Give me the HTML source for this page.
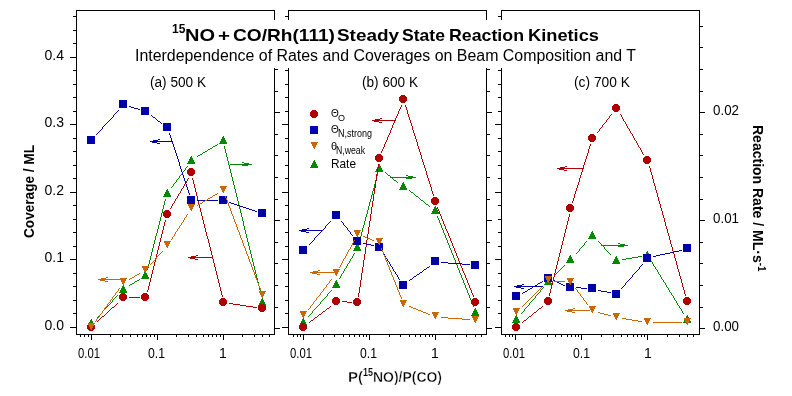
<!DOCTYPE html>
<html><head><meta charset="utf-8"><title>15NO + CO/Rh(111) Steady State Reaction Kinetics</title>
<style>html,body{margin:0;padding:0;background:#fff;width:792px;height:396px;overflow:hidden}svg{display:block}</style>
</head><body>
<svg width="792" height="396" viewBox="0 0 792 396">
<rect width="792" height="396" fill="#fff"/>
<g shape-rendering="crispEdges"><rect x="76" y="10" width="199" height="1" fill="#000"/><rect x="76" y="334" width="199" height="1" fill="#000"/><rect x="76" y="10" width="1" height="325" fill="#000"/><rect x="274" y="10" width="1" height="325" fill="#000"/><rect x="70" y="327" width="6" height="1" fill="#000"/><rect x="73" y="313" width="3" height="1" fill="#000"/><rect x="73" y="300" width="3" height="1" fill="#000"/><rect x="73" y="286" width="3" height="1" fill="#000"/><rect x="73" y="273" width="3" height="1" fill="#000"/><rect x="70" y="259" width="6" height="1" fill="#000"/><rect x="73" y="246" width="3" height="1" fill="#000"/><rect x="73" y="232" width="3" height="1" fill="#000"/><rect x="73" y="219" width="3" height="1" fill="#000"/><rect x="73" y="205" width="3" height="1" fill="#000"/><rect x="70" y="192" width="6" height="1" fill="#000"/><rect x="73" y="178" width="3" height="1" fill="#000"/><rect x="73" y="165" width="3" height="1" fill="#000"/><rect x="73" y="151" width="3" height="1" fill="#000"/><rect x="73" y="138" width="3" height="1" fill="#000"/><rect x="70" y="124" width="6" height="1" fill="#000"/><rect x="73" y="111" width="3" height="1" fill="#000"/><rect x="73" y="97" width="3" height="1" fill="#000"/><rect x="73" y="84" width="3" height="1" fill="#000"/><rect x="73" y="70" width="3" height="1" fill="#000"/><rect x="70" y="57" width="6" height="1" fill="#000"/><rect x="73" y="43" width="3" height="1" fill="#000"/><rect x="73" y="30" width="3" height="1" fill="#000"/><rect x="73" y="16" width="3" height="1" fill="#000"/><rect x="275" y="328" width="5" height="1" fill="#000"/><rect x="275" y="307" width="3" height="1" fill="#000"/><rect x="275" y="285" width="3" height="1" fill="#000"/><rect x="275" y="263" width="3" height="1" fill="#000"/><rect x="275" y="242" width="3" height="1" fill="#000"/><rect x="275" y="220" width="5" height="1" fill="#000"/><rect x="275" y="199" width="3" height="1" fill="#000"/><rect x="275" y="177" width="3" height="1" fill="#000"/><rect x="275" y="155" width="3" height="1" fill="#000"/><rect x="275" y="134" width="3" height="1" fill="#000"/><rect x="275" y="112" width="5" height="1" fill="#000"/><rect x="275" y="91" width="3" height="1" fill="#000"/><rect x="275" y="69" width="3" height="1" fill="#000"/><rect x="275" y="47" width="3" height="1" fill="#000"/><rect x="275" y="26" width="3" height="1" fill="#000"/><rect x="80" y="335" width="1" height="2" fill="#000"/><rect x="84" y="335" width="1" height="2" fill="#000"/><rect x="88" y="335" width="1" height="2" fill="#000"/><rect x="91" y="335" width="1" height="5" fill="#000"/><rect x="110" y="335" width="1" height="2" fill="#000"/><rect x="122" y="335" width="1" height="2" fill="#000"/><rect x="130" y="335" width="1" height="2" fill="#000"/><rect x="137" y="335" width="1" height="2" fill="#000"/><rect x="142" y="335" width="1" height="2" fill="#000"/><rect x="146" y="335" width="1" height="2" fill="#000"/><rect x="150" y="335" width="1" height="2" fill="#000"/><rect x="154" y="335" width="1" height="2" fill="#000"/><rect x="157" y="335" width="1" height="5" fill="#000"/><rect x="176" y="335" width="1" height="2" fill="#000"/><rect x="188" y="335" width="1" height="2" fill="#000"/><rect x="196" y="335" width="1" height="2" fill="#000"/><rect x="203" y="335" width="1" height="2" fill="#000"/><rect x="208" y="335" width="1" height="2" fill="#000"/><rect x="212" y="335" width="1" height="2" fill="#000"/><rect x="216" y="335" width="1" height="2" fill="#000"/><rect x="220" y="335" width="1" height="2" fill="#000"/><rect x="223" y="335" width="1" height="5" fill="#000"/><rect x="242" y="335" width="1" height="2" fill="#000"/><rect x="254" y="335" width="1" height="2" fill="#000"/><rect x="262" y="335" width="1" height="2" fill="#000"/><rect x="269" y="335" width="1" height="2" fill="#000"/><rect x="288" y="10" width="199" height="1" fill="#000"/><rect x="288" y="334" width="199" height="1" fill="#000"/><rect x="288" y="10" width="1" height="325" fill="#000"/><rect x="486" y="10" width="1" height="325" fill="#000"/><rect x="282" y="327" width="6" height="1" fill="#000"/><rect x="285" y="313" width="3" height="1" fill="#000"/><rect x="285" y="300" width="3" height="1" fill="#000"/><rect x="285" y="286" width="3" height="1" fill="#000"/><rect x="285" y="273" width="3" height="1" fill="#000"/><rect x="282" y="259" width="6" height="1" fill="#000"/><rect x="285" y="246" width="3" height="1" fill="#000"/><rect x="285" y="232" width="3" height="1" fill="#000"/><rect x="285" y="219" width="3" height="1" fill="#000"/><rect x="285" y="205" width="3" height="1" fill="#000"/><rect x="282" y="192" width="6" height="1" fill="#000"/><rect x="285" y="178" width="3" height="1" fill="#000"/><rect x="285" y="165" width="3" height="1" fill="#000"/><rect x="285" y="151" width="3" height="1" fill="#000"/><rect x="285" y="138" width="3" height="1" fill="#000"/><rect x="282" y="124" width="6" height="1" fill="#000"/><rect x="285" y="111" width="3" height="1" fill="#000"/><rect x="285" y="97" width="3" height="1" fill="#000"/><rect x="285" y="84" width="3" height="1" fill="#000"/><rect x="285" y="70" width="3" height="1" fill="#000"/><rect x="282" y="57" width="6" height="1" fill="#000"/><rect x="285" y="43" width="3" height="1" fill="#000"/><rect x="285" y="30" width="3" height="1" fill="#000"/><rect x="285" y="16" width="3" height="1" fill="#000"/><rect x="487" y="328" width="5" height="1" fill="#000"/><rect x="487" y="307" width="3" height="1" fill="#000"/><rect x="487" y="285" width="3" height="1" fill="#000"/><rect x="487" y="263" width="3" height="1" fill="#000"/><rect x="487" y="242" width="3" height="1" fill="#000"/><rect x="487" y="220" width="5" height="1" fill="#000"/><rect x="487" y="199" width="3" height="1" fill="#000"/><rect x="487" y="177" width="3" height="1" fill="#000"/><rect x="487" y="155" width="3" height="1" fill="#000"/><rect x="487" y="134" width="3" height="1" fill="#000"/><rect x="487" y="112" width="5" height="1" fill="#000"/><rect x="487" y="91" width="3" height="1" fill="#000"/><rect x="487" y="69" width="3" height="1" fill="#000"/><rect x="487" y="47" width="3" height="1" fill="#000"/><rect x="487" y="26" width="3" height="1" fill="#000"/><rect x="293" y="335" width="1" height="2" fill="#000"/><rect x="297" y="335" width="1" height="2" fill="#000"/><rect x="300" y="335" width="1" height="2" fill="#000"/><rect x="303" y="335" width="1" height="5" fill="#000"/><rect x="323" y="335" width="1" height="2" fill="#000"/><rect x="334" y="335" width="1" height="2" fill="#000"/><rect x="343" y="335" width="1" height="2" fill="#000"/><rect x="349" y="335" width="1" height="2" fill="#000"/><rect x="354" y="335" width="1" height="2" fill="#000"/><rect x="359" y="335" width="1" height="2" fill="#000"/><rect x="363" y="335" width="1" height="2" fill="#000"/><rect x="366" y="335" width="1" height="2" fill="#000"/><rect x="369" y="335" width="1" height="5" fill="#000"/><rect x="389" y="335" width="1" height="2" fill="#000"/><rect x="400" y="335" width="1" height="2" fill="#000"/><rect x="409" y="335" width="1" height="2" fill="#000"/><rect x="415" y="335" width="1" height="2" fill="#000"/><rect x="420" y="335" width="1" height="2" fill="#000"/><rect x="425" y="335" width="1" height="2" fill="#000"/><rect x="429" y="335" width="1" height="2" fill="#000"/><rect x="432" y="335" width="1" height="2" fill="#000"/><rect x="435" y="335" width="1" height="5" fill="#000"/><rect x="455" y="335" width="1" height="2" fill="#000"/><rect x="466" y="335" width="1" height="2" fill="#000"/><rect x="475" y="335" width="1" height="2" fill="#000"/><rect x="481" y="335" width="1" height="2" fill="#000"/><rect x="501" y="10" width="199" height="1" fill="#000"/><rect x="501" y="334" width="199" height="1" fill="#000"/><rect x="501" y="10" width="1" height="325" fill="#000"/><rect x="699" y="10" width="1" height="325" fill="#000"/><rect x="495" y="327" width="6" height="1" fill="#000"/><rect x="498" y="313" width="3" height="1" fill="#000"/><rect x="498" y="300" width="3" height="1" fill="#000"/><rect x="498" y="286" width="3" height="1" fill="#000"/><rect x="498" y="273" width="3" height="1" fill="#000"/><rect x="495" y="259" width="6" height="1" fill="#000"/><rect x="498" y="246" width="3" height="1" fill="#000"/><rect x="498" y="232" width="3" height="1" fill="#000"/><rect x="498" y="219" width="3" height="1" fill="#000"/><rect x="498" y="205" width="3" height="1" fill="#000"/><rect x="495" y="192" width="6" height="1" fill="#000"/><rect x="498" y="178" width="3" height="1" fill="#000"/><rect x="498" y="165" width="3" height="1" fill="#000"/><rect x="498" y="151" width="3" height="1" fill="#000"/><rect x="498" y="138" width="3" height="1" fill="#000"/><rect x="495" y="124" width="6" height="1" fill="#000"/><rect x="498" y="111" width="3" height="1" fill="#000"/><rect x="498" y="97" width="3" height="1" fill="#000"/><rect x="498" y="84" width="3" height="1" fill="#000"/><rect x="498" y="70" width="3" height="1" fill="#000"/><rect x="495" y="57" width="6" height="1" fill="#000"/><rect x="498" y="43" width="3" height="1" fill="#000"/><rect x="498" y="30" width="3" height="1" fill="#000"/><rect x="498" y="16" width="3" height="1" fill="#000"/><rect x="700" y="328" width="5" height="1" fill="#000"/><rect x="700" y="307" width="3" height="1" fill="#000"/><rect x="700" y="285" width="3" height="1" fill="#000"/><rect x="700" y="263" width="3" height="1" fill="#000"/><rect x="700" y="242" width="3" height="1" fill="#000"/><rect x="700" y="220" width="5" height="1" fill="#000"/><rect x="700" y="199" width="3" height="1" fill="#000"/><rect x="700" y="177" width="3" height="1" fill="#000"/><rect x="700" y="155" width="3" height="1" fill="#000"/><rect x="700" y="134" width="3" height="1" fill="#000"/><rect x="700" y="112" width="5" height="1" fill="#000"/><rect x="700" y="91" width="3" height="1" fill="#000"/><rect x="700" y="69" width="3" height="1" fill="#000"/><rect x="700" y="47" width="3" height="1" fill="#000"/><rect x="700" y="26" width="3" height="1" fill="#000"/><rect x="505" y="335" width="1" height="2" fill="#000"/><rect x="509" y="335" width="1" height="2" fill="#000"/><rect x="512" y="335" width="1" height="2" fill="#000"/><rect x="515" y="335" width="1" height="5" fill="#000"/><rect x="535" y="335" width="1" height="2" fill="#000"/><rect x="547" y="335" width="1" height="2" fill="#000"/><rect x="555" y="335" width="1" height="2" fill="#000"/><rect x="561" y="335" width="1" height="2" fill="#000"/><rect x="567" y="335" width="1" height="2" fill="#000"/><rect x="571" y="335" width="1" height="2" fill="#000"/><rect x="575" y="335" width="1" height="2" fill="#000"/><rect x="578" y="335" width="1" height="2" fill="#000"/><rect x="581" y="335" width="1" height="5" fill="#000"/><rect x="601" y="335" width="1" height="2" fill="#000"/><rect x="613" y="335" width="1" height="2" fill="#000"/><rect x="621" y="335" width="1" height="2" fill="#000"/><rect x="627" y="335" width="1" height="2" fill="#000"/><rect x="633" y="335" width="1" height="2" fill="#000"/><rect x="637" y="335" width="1" height="2" fill="#000"/><rect x="641" y="335" width="1" height="2" fill="#000"/><rect x="644" y="335" width="1" height="2" fill="#000"/><rect x="647" y="335" width="1" height="5" fill="#000"/><rect x="667" y="335" width="1" height="2" fill="#000"/><rect x="679" y="335" width="1" height="2" fill="#000"/><rect x="687" y="335" width="1" height="2" fill="#000"/><rect x="693" y="335" width="1" height="2" fill="#000"/></g>
<g shape-rendering="crispEdges"><path d="M97 317h1v1h-1zM98 316h1v1h-1zM99 315h1v1h-1zM100 314h1v1h-1zM101 313h1v1h-1zM102 312h1v1h-1zM102 311h1v1h-1zM103 310h1v1h-1zM104 309h1v1h-1zM105 308h1v1h-1zM106 307h1v1h-1zM107 306h1v1h-1zM108 305h1v1h-1zM109 304h1v1h-1zM110 303h1v1h-1zM111 302h1v1h-1zM112 301h1v1h-1zM112 300h1v1h-1zM113 299h1v1h-1zM114 298h1v1h-1zM115 297h1v1h-1zM116 296h1v1h-1zM261 296h1v1h-1zM117 295h1v1h-1zM261 295h1v1h-1zM129 285h1v1h-1zM258 285h1v1h-1zM130 284h2v1h-2zM258 284h1v1h-1zM132 283h2v1h-2zM258 283h1v1h-1zM134 282h1v1h-1zM258 282h1v1h-1zM135 281h2v1h-2zM257 281h1v1h-1zM137 280h2v1h-2zM257 280h1v1h-1zM139 279h1v1h-1zM257 279h1v1h-1zM147 269h1v1h-1zM254 269h1v1h-1zM147 268h1v1h-1zM254 268h1v1h-1zM148 267h1v1h-1zM254 267h1v1h-1zM148 266h1v1h-1zM254 266h1v1h-1zM148 265h1v1h-1zM253 265h1v1h-1zM148 264h1v1h-1zM253 264h1v1h-1zM149 263h1v1h-1zM253 263h1v1h-1zM149 262h1v1h-1zM253 262h1v1h-1zM149 261h1v1h-1zM252 261h1v1h-1zM149 260h1v1h-1zM252 260h1v1h-1zM150 259h1v1h-1zM252 259h1v1h-1zM150 258h1v1h-1zM252 258h1v1h-1zM150 257h1v1h-1zM251 257h1v1h-1zM150 256h1v1h-1zM251 256h1v1h-1zM151 255h1v1h-1zM251 255h1v1h-1zM151 254h1v1h-1zM251 254h1v1h-1zM151 253h1v1h-1zM250 253h1v1h-1zM151 252h1v1h-1zM250 252h1v1h-1zM152 251h1v1h-1zM250 251h1v1h-1zM152 250h1v1h-1zM250 250h1v1h-1zM152 249h1v1h-1zM249 249h1v1h-1zM152 248h1v1h-1zM249 248h1v1h-1zM153 247h1v1h-1zM249 247h1v1h-1zM153 246h1v1h-1zM249 246h1v1h-1zM153 245h1v1h-1zM248 245h1v1h-1zM153 244h1v1h-1zM248 244h1v1h-1zM154 243h1v1h-1zM248 243h1v1h-1zM154 242h1v1h-1zM248 242h1v1h-1zM154 241h1v1h-1zM247 241h1v1h-1zM154 240h1v1h-1zM247 240h1v1h-1zM155 239h1v1h-1zM247 239h1v1h-1zM155 238h1v1h-1zM247 238h1v1h-1zM155 237h1v1h-1zM246 237h1v1h-1zM155 236h1v1h-1zM246 236h1v1h-1zM156 235h1v1h-1zM246 235h1v1h-1zM156 234h1v1h-1zM246 234h1v1h-1zM156 233h1v1h-1zM245 233h1v1h-1zM157 232h1v1h-1zM245 232h1v1h-1zM157 231h1v1h-1zM245 231h1v1h-1zM157 230h1v1h-1zM245 230h1v1h-1zM157 229h1v1h-1zM244 229h1v1h-1zM158 228h1v1h-1zM244 228h1v1h-1zM158 227h1v1h-1zM244 227h1v1h-1zM158 226h1v1h-1zM244 226h1v1h-1zM158 225h1v1h-1zM243 225h1v1h-1zM159 224h1v1h-1zM243 224h1v1h-1zM159 223h1v1h-1zM243 223h1v1h-1zM159 222h1v1h-1zM243 222h1v1h-1zM159 221h1v1h-1zM243 221h1v1h-1zM160 220h1v1h-1zM242 220h1v1h-1zM160 219h1v1h-1zM242 219h1v1h-1zM160 218h1v1h-1zM242 218h1v1h-1zM160 217h1v1h-1zM242 217h1v1h-1zM161 216h1v1h-1zM241 216h1v1h-1zM161 215h1v1h-1zM241 215h1v1h-1zM161 214h1v1h-1zM241 214h1v1h-1zM161 213h1v1h-1zM241 213h1v1h-1zM162 212h1v1h-1zM240 212h1v1h-1zM162 211h1v1h-1zM240 211h1v1h-1zM162 210h1v1h-1zM240 210h1v1h-1zM162 209h1v1h-1zM240 209h1v1h-1zM163 208h1v1h-1zM239 208h1v1h-1zM163 207h1v1h-1zM239 207h1v1h-1zM163 206h1v1h-1zM239 206h1v1h-1zM163 205h1v1h-1zM239 205h1v1h-1zM164 204h1v1h-1zM238 204h1v1h-1zM164 203h1v1h-1zM238 203h1v1h-1zM164 202h1v1h-1zM238 202h1v1h-1zM164 201h1v1h-1zM238 201h1v1h-1zM165 200h1v1h-1zM237 200h1v1h-1zM165 199h1v1h-1zM237 199h1v1h-1zM171 187h1v1h-1zM234 187h1v1h-1zM172 186h1v1h-1zM234 186h1v1h-1zM173 185h1v1h-1zM234 185h1v1h-1zM173 184h1v1h-1zM233 184h1v1h-1zM174 183h1v1h-1zM233 183h1v1h-1zM175 182h1v1h-1zM233 182h1v1h-1zM176 181h1v1h-1zM233 181h1v1h-1zM176 180h1v1h-1zM232 180h1v1h-1zM177 179h1v1h-1zM232 179h1v1h-1zM178 178h1v1h-1zM232 178h1v1h-1zM179 177h1v1h-1zM232 177h1v1h-1zM179 176h1v1h-1zM231 176h1v1h-1zM180 175h1v1h-1zM231 175h1v1h-1zM181 174h1v1h-1zM231 174h1v1h-1zM182 173h1v1h-1zM231 173h1v1h-1zM182 172h1v1h-1zM230 172h1v1h-1zM183 171h1v1h-1zM230 171h1v1h-1zM184 170h1v1h-1zM230 170h1v1h-1zM185 169h1v1h-1zM230 169h1v1h-1zM185 168h1v1h-1zM229 168h1v1h-1zM186 167h1v1h-1zM229 167h1v1h-1zM187 166h1v1h-1zM229 166h1v1h-1zM197 156h1v1h-1zM226 156h1v1h-1zM198 155h2v1h-2zM226 155h1v1h-1zM200 154h2v1h-2zM226 154h1v1h-1zM202 153h1v1h-1zM226 153h1v1h-1zM203 152h2v1h-2zM225 152h1v1h-1zM205 151h2v1h-2zM225 151h1v1h-1zM207 150h1v1h-1zM225 150h1v1h-1zM208 149h2v1h-2zM225 149h1v1h-1zM210 148h2v1h-2zM224 148h1v1h-1zM212 147h1v1h-1zM224 147h1v1h-1zM213 146h2v1h-2zM224 146h1v1h-1zM215 145h2v1h-2zM217 144h1v1h-1zM227 157h1v1h-1zM227 158h1v1h-1zM227 159h1v1h-1zM227 160h1v1h-1zM228 161h1v1h-1zM228 162h1v1h-1zM228 163h1v1h-1zM228 164h1v1h-1zM229 165h1v1h-1zM234 188h1v1h-1zM235 189h1v1h-1zM235 190h1v1h-1zM235 191h1v1h-1zM235 192h1v1h-1zM236 193h1v1h-1zM236 194h1v1h-1zM236 195h1v1h-1zM236 196h1v1h-1zM237 197h1v1h-1zM237 198h1v1h-1zM255 270h1v1h-1zM255 271h1v1h-1zM255 272h1v1h-1zM255 273h1v1h-1zM256 274h1v1h-1zM256 275h1v1h-1zM256 276h1v1h-1zM256 277h1v1h-1zM257 278h1v1h-1zM259 286h1v1h-1zM259 287h1v1h-1zM259 288h1v1h-1zM259 289h1v1h-1zM260 290h1v1h-1zM260 291h1v1h-1zM260 292h1v1h-1zM260 293h1v1h-1zM261 294h1v1h-1z" fill="#008800"/><path d="M91 319h1v1h-1zM90 320h2v1h-2zM90 321h3v1h-3zM89 322h4v1h-4zM89 323h5v1h-5zM88 324h6v1h-6zM88 325h7v1h-7zM87 326h8v1h-8z" fill="#008800"/><path d="M123 285h1v1h-1zM122 286h2v1h-2zM122 287h3v1h-3zM121 288h4v1h-4zM121 289h5v1h-5zM120 290h6v1h-6zM120 291h7v1h-7zM119 292h8v1h-8z" fill="#008800"/><path d="M145 271h1v1h-1zM144 272h2v1h-2zM144 273h3v1h-3zM143 274h4v1h-4zM143 275h5v1h-5zM142 276h6v1h-6zM142 277h7v1h-7zM141 278h8v1h-8z" fill="#008800"/><path d="M167 189h1v1h-1zM166 190h2v1h-2zM166 191h3v1h-3zM165 192h4v1h-4zM165 193h5v1h-5zM164 194h6v1h-6zM164 195h7v1h-7zM163 196h8v1h-8z" fill="#008800"/><path d="M191 156h1v1h-1zM190 157h2v1h-2zM190 158h3v1h-3zM189 159h4v1h-4zM189 160h5v1h-5zM188 161h6v1h-6zM188 162h7v1h-7zM187 163h8v1h-8z" fill="#008800"/><path d="M223 136h1v1h-1zM222 137h2v1h-2zM222 138h3v1h-3zM221 139h4v1h-4zM221 140h5v1h-5zM220 141h6v1h-6zM220 142h7v1h-7zM219 143h8v1h-8z" fill="#008800"/><path d="M262 298h1v1h-1zM261 299h2v1h-2zM261 300h3v1h-3zM260 301h4v1h-4zM260 302h5v1h-5zM259 303h6v1h-6zM259 304h7v1h-7zM258 305h8v1h-8z" fill="#008800"/><path d="M97 321h1v1h-1zM98 320h1v1h-1zM99 319h1v1h-1zM100 318h1v1h-1zM101 317h1v1h-1zM102 316h2v1h-2zM104 315h1v1h-1zM105 314h1v1h-1zM106 313h1v1h-1zM107 312h1v1h-1zM108 311h1v1h-1zM109 310h1v1h-1zM110 309h1v1h-1zM111 308h1v1h-1zM112 307h2v1h-2zM253 307h4v1h-4zM114 306h1v1h-1zM246 306h7v1h-7zM115 305h1v1h-1zM240 305h6v1h-6zM116 304h1v1h-1zM233 304h7v1h-7zM117 303h1v1h-1zM229 303h4v1h-4zM129 297h11v1h-11zM147 291h1v1h-1zM221 291h1v1h-1zM147 290h1v1h-1zM220 290h1v1h-1zM148 289h1v1h-1zM220 289h1v1h-1zM148 288h1v1h-1zM220 288h1v1h-1zM148 287h1v1h-1zM220 287h1v1h-1zM148 286h1v1h-1zM219 286h1v1h-1zM149 285h1v1h-1zM219 285h1v1h-1zM149 284h1v1h-1zM219 284h1v1h-1zM149 283h1v1h-1zM219 283h1v1h-1zM149 282h1v1h-1zM218 282h1v1h-1zM150 281h1v1h-1zM218 281h1v1h-1zM150 280h1v1h-1zM218 280h1v1h-1zM150 279h1v1h-1zM218 279h1v1h-1zM150 278h1v1h-1zM217 278h1v1h-1zM151 277h1v1h-1zM217 277h1v1h-1zM151 276h1v1h-1zM217 276h1v1h-1zM151 275h1v1h-1zM217 275h1v1h-1zM151 274h1v1h-1zM216 274h1v1h-1zM152 273h1v1h-1zM216 273h1v1h-1zM152 272h1v1h-1zM216 272h1v1h-1zM152 271h1v1h-1zM216 271h1v1h-1zM152 270h1v1h-1zM215 270h1v1h-1zM153 269h1v1h-1zM215 269h1v1h-1zM153 268h1v1h-1zM215 268h1v1h-1zM153 267h1v1h-1zM215 267h1v1h-1zM153 266h1v1h-1zM214 266h1v1h-1zM154 265h1v1h-1zM214 265h1v1h-1zM154 264h1v1h-1zM214 264h1v1h-1zM154 263h1v1h-1zM214 263h1v1h-1zM154 262h1v1h-1zM213 262h1v1h-1zM155 261h1v1h-1zM213 261h1v1h-1zM155 260h1v1h-1zM213 260h1v1h-1zM155 259h1v1h-1zM213 259h1v1h-1zM155 258h1v1h-1zM212 258h1v1h-1zM156 257h1v1h-1zM212 257h1v1h-1zM156 256h1v1h-1zM212 256h1v1h-1zM156 255h1v1h-1zM212 255h1v1h-1zM156 254h1v1h-1zM211 254h1v1h-1zM157 253h1v1h-1zM211 253h1v1h-1zM157 252h1v1h-1zM211 252h1v1h-1zM157 251h1v1h-1zM211 251h1v1h-1zM157 250h1v1h-1zM210 250h1v1h-1zM158 249h1v1h-1zM210 249h1v1h-1zM158 248h1v1h-1zM210 248h1v1h-1zM158 247h1v1h-1zM210 247h1v1h-1zM158 246h1v1h-1zM209 246h1v1h-1zM159 245h1v1h-1zM209 245h1v1h-1zM159 244h1v1h-1zM209 244h1v1h-1zM159 243h1v1h-1zM209 243h1v1h-1zM159 242h1v1h-1zM208 242h1v1h-1zM160 241h1v1h-1zM208 241h1v1h-1zM160 240h1v1h-1zM208 240h1v1h-1zM160 239h1v1h-1zM208 239h1v1h-1zM160 238h1v1h-1zM207 238h1v1h-1zM161 237h1v1h-1zM207 237h1v1h-1zM161 236h1v1h-1zM207 236h1v1h-1zM161 235h1v1h-1zM206 235h1v1h-1zM161 234h1v1h-1zM206 234h1v1h-1zM162 233h1v1h-1zM206 233h1v1h-1zM162 232h1v1h-1zM206 232h1v1h-1zM162 231h1v1h-1zM205 231h1v1h-1zM162 230h1v1h-1zM205 230h1v1h-1zM163 229h1v1h-1zM205 229h1v1h-1zM163 228h1v1h-1zM205 228h1v1h-1zM163 227h1v1h-1zM204 227h1v1h-1zM163 226h1v1h-1zM204 226h1v1h-1zM164 225h1v1h-1zM204 225h1v1h-1zM164 224h1v1h-1zM204 224h1v1h-1zM164 223h1v1h-1zM203 223h1v1h-1zM164 222h1v1h-1zM203 222h1v1h-1zM165 221h1v1h-1zM203 221h1v1h-1zM165 220h1v1h-1zM203 220h1v1h-1zM170 208h1v1h-1zM200 208h1v1h-1zM171 207h1v1h-1zM199 207h1v1h-1zM171 206h1v1h-1zM199 206h1v1h-1zM172 205h1v1h-1zM199 205h1v1h-1zM172 204h1v1h-1zM199 204h1v1h-1zM173 203h1v1h-1zM198 203h1v1h-1zM174 202h1v1h-1zM198 202h1v1h-1zM174 201h1v1h-1zM198 201h1v1h-1zM175 200h1v1h-1zM198 200h1v1h-1zM175 199h1v1h-1zM197 199h1v1h-1zM176 198h1v1h-1zM197 198h1v1h-1zM177 197h1v1h-1zM197 197h1v1h-1zM177 196h1v1h-1zM197 196h1v1h-1zM178 195h1v1h-1zM196 195h1v1h-1zM178 194h1v1h-1zM196 194h1v1h-1zM179 193h1v1h-1zM196 193h1v1h-1zM180 192h1v1h-1zM196 192h1v1h-1zM180 191h1v1h-1zM195 191h1v1h-1zM181 190h1v1h-1zM195 190h1v1h-1zM181 189h1v1h-1zM195 189h1v1h-1zM182 188h1v1h-1zM195 188h1v1h-1zM183 187h1v1h-1zM194 187h1v1h-1zM183 186h1v1h-1zM194 186h1v1h-1zM184 185h1v1h-1zM194 185h1v1h-1zM184 184h1v1h-1zM194 184h1v1h-1zM185 183h1v1h-1zM193 183h1v1h-1zM186 182h1v1h-1zM193 182h1v1h-1zM186 181h1v1h-1zM193 181h1v1h-1zM187 180h1v1h-1zM193 180h1v1h-1zM187 179h1v1h-1zM192 179h1v1h-1zM188 178h1v1h-1zM192 178h1v1h-1zM200 209h1v1h-1zM200 210h1v1h-1zM200 211h1v1h-1zM201 212h1v1h-1zM201 213h1v1h-1zM201 214h1v1h-1zM201 215h1v1h-1zM202 216h1v1h-1zM202 217h1v1h-1zM202 218h1v1h-1zM202 219h1v1h-1zM221 292h1v1h-1zM221 293h1v1h-1zM221 294h1v1h-1zM222 295h1v1h-1zM222 296h1v1h-1z" fill="#ae0000"/><path d="M89 323h4v1h1v1h1v4h-1v1h-1v1h-4v-1h-1v-1h-1v-4h1v-1h1z" fill="#ae0000"/><path d="M121 293h4v1h1v1h1v4h-1v1h-1v1h-4v-1h-1v-1h-1v-4h1v-1h1z" fill="#ae0000"/><path d="M143 293h4v1h1v1h1v4h-1v1h-1v1h-4v-1h-1v-1h-1v-4h1v-1h1z" fill="#ae0000"/><path d="M165 210h4v1h1v1h1v4h-1v1h-1v1h-4v-1h-1v-1h-1v-4h1v-1h1z" fill="#ae0000"/><path d="M189 168h4v1h1v1h1v4h-1v1h-1v1h-4v-1h-1v-1h-1v-4h1v-1h1z" fill="#ae0000"/><path d="M221 298h4v1h1v1h1v4h-1v1h-1v1h-4v-1h-1v-1h-1v-4h1v-1h1z" fill="#ae0000"/><path d="M260 304h4v1h1v1h1v4h-1v1h-1v1h-4v-1h-1v-1h-1v-4h1v-1h1z" fill="#ae0000"/><path d="M96 134h1v1h-1zM169 134h1v1h-1zM97 133h1v1h-1zM169 133h1v1h-1zM98 132h1v1h-1zM99 131h1v1h-1zM100 130h1v1h-1zM101 129h1v1h-1zM102 128h1v1h-1zM102 127h1v1h-1zM103 126h1v1h-1zM104 125h1v1h-1zM105 124h1v1h-1zM106 123h1v1h-1zM161 123h1v1h-1zM107 122h1v1h-1zM160 122h1v1h-1zM108 121h1v1h-1zM158 121h2v1h-2zM109 120h1v1h-1zM157 120h1v1h-1zM110 119h1v1h-1zM156 119h1v1h-1zM111 118h1v1h-1zM155 118h1v1h-1zM112 117h1v1h-1zM153 117h2v1h-2zM113 116h1v1h-1zM152 116h1v1h-1zM113 115h1v1h-1zM151 115h1v1h-1zM114 114h1v1h-1zM115 113h1v1h-1zM116 112h1v1h-1zM117 111h1v1h-1zM118 110h1v1h-1zM129 106h2v1h-2zM131 107h3v1h-3zM134 108h4v1h-4zM138 109h2v1h-2zM170 135h1v1h-1zM170 136h1v1h-1zM170 137h1v1h-1zM171 138h1v1h-1zM171 139h1v1h-1zM171 140h1v1h-1zM172 141h1v1h-1zM172 142h1v1h-1zM172 143h1v1h-1zM173 144h1v1h-1zM173 145h1v1h-1zM173 146h1v1h-1zM174 147h1v1h-1zM174 148h1v1h-1zM174 149h1v1h-1zM175 150h1v1h-1zM175 151h1v1h-1zM175 152h1v1h-1zM176 153h1v1h-1zM176 154h1v1h-1zM176 155h1v1h-1zM177 156h1v1h-1zM177 157h1v1h-1zM177 158h1v1h-1zM178 159h1v1h-1zM178 160h1v1h-1zM178 161h1v1h-1zM179 162h1v1h-1zM179 163h1v1h-1zM179 164h1v1h-1zM179 165h1v1h-1zM180 166h1v1h-1zM180 167h1v1h-1zM180 168h1v1h-1zM181 169h1v1h-1zM181 170h1v1h-1zM181 171h1v1h-1zM182 172h1v1h-1zM182 173h1v1h-1zM182 174h1v1h-1zM183 175h1v1h-1zM183 176h1v1h-1zM183 177h1v1h-1zM184 178h1v1h-1zM184 179h1v1h-1zM184 180h1v1h-1zM185 181h1v1h-1zM185 182h1v1h-1zM185 183h1v1h-1zM186 184h1v1h-1zM186 185h1v1h-1zM186 186h1v1h-1zM187 187h1v1h-1zM187 188h1v1h-1zM187 189h1v1h-1zM188 190h1v1h-1zM188 191h1v1h-1zM188 192h1v1h-1zM189 193h1v1h-1zM189 194h1v1h-1zM197 200h21v1h-21zM229 202h2v1h-2zM231 203h3v1h-3zM234 204h3v1h-3zM237 205h3v1h-3zM240 206h3v1h-3zM243 207h3v1h-3zM246 208h3v1h-3zM249 209h3v1h-3zM252 210h3v1h-3zM255 211h2v1h-2z" fill="#0000a8"/><rect x="87" y="136" width="8" height="8" fill="#0000a8"/><rect x="119" y="100" width="8" height="8" fill="#0000a8"/><rect x="141" y="107" width="8" height="8" fill="#0000a8"/><rect x="163" y="123" width="8" height="8" fill="#0000a8"/><rect x="187" y="196" width="8" height="8" fill="#0000a8"/><rect x="219" y="196" width="8" height="8" fill="#0000a8"/><rect x="258" y="209" width="8" height="8" fill="#0000a8"/><path d="M95 321h1v1h-1zM96 320h1v1h-1zM96 319h1v1h-1zM97 318h1v1h-1zM98 317h1v1h-1zM99 316h1v1h-1zM99 315h1v1h-1zM100 314h1v1h-1zM101 313h1v1h-1zM102 312h1v1h-1zM102 311h1v1h-1zM103 310h1v1h-1zM104 309h1v1h-1zM104 308h1v1h-1zM105 307h1v1h-1zM106 306h1v1h-1zM107 305h1v1h-1zM107 304h1v1h-1zM108 303h1v1h-1zM109 302h1v1h-1zM110 301h1v1h-1zM110 300h1v1h-1zM111 299h1v1h-1zM112 298h1v1h-1zM112 297h1v1h-1zM113 296h1v1h-1zM114 295h1v1h-1zM115 294h1v1h-1zM115 293h1v1h-1zM116 292h1v1h-1zM117 291h1v1h-1zM118 290h1v1h-1zM118 289h1v1h-1zM260 289h1v1h-1zM119 288h1v1h-1zM260 288h1v1h-1zM129 279h1v1h-1zM256 279h1v1h-1zM130 278h2v1h-2zM256 278h1v1h-1zM132 277h2v1h-2zM255 277h1v1h-1zM134 276h1v1h-1zM255 276h1v1h-1zM135 275h2v1h-2zM255 275h1v1h-1zM137 274h2v1h-2zM254 274h1v1h-1zM139 273h1v1h-1zM254 273h1v1h-1zM150 264h1v1h-1zM251 264h1v1h-1zM151 263h1v1h-1zM250 263h1v1h-1zM152 262h1v1h-1zM250 262h1v1h-1zM153 261h1v1h-1zM249 261h1v1h-1zM154 260h1v1h-1zM249 260h1v1h-1zM155 259h1v1h-1zM249 259h1v1h-1zM156 258h1v1h-1zM248 258h1v1h-1zM156 257h1v1h-1zM248 257h1v1h-1zM157 256h1v1h-1zM248 256h1v1h-1zM158 255h1v1h-1zM247 255h1v1h-1zM159 254h1v1h-1zM247 254h1v1h-1zM160 253h1v1h-1zM246 253h1v1h-1zM161 252h1v1h-1zM246 252h1v1h-1zM162 251h1v1h-1zM246 251h1v1h-1zM171 239h1v1h-1zM241 239h1v1h-1zM172 238h1v1h-1zM241 238h1v1h-1zM172 237h1v1h-1zM240 237h1v1h-1zM173 236h1v1h-1zM240 236h1v1h-1zM174 235h1v1h-1zM240 235h1v1h-1zM174 234h1v1h-1zM239 234h1v1h-1zM175 233h1v1h-1zM239 233h1v1h-1zM175 232h1v1h-1zM239 232h1v1h-1zM176 231h1v1h-1zM238 231h1v1h-1zM177 230h1v1h-1zM238 230h1v1h-1zM177 229h1v1h-1zM237 229h1v1h-1zM178 228h1v1h-1zM237 228h1v1h-1zM179 227h1v1h-1zM237 227h1v1h-1zM179 226h1v1h-1zM236 226h1v1h-1zM180 225h1v1h-1zM236 225h1v1h-1zM181 224h1v1h-1zM236 224h1v1h-1zM181 223h1v1h-1zM235 223h1v1h-1zM182 222h1v1h-1zM235 222h1v1h-1zM183 221h1v1h-1zM234 221h1v1h-1zM183 220h1v1h-1zM234 220h1v1h-1zM184 219h1v1h-1zM234 219h1v1h-1zM184 218h1v1h-1zM233 218h1v1h-1zM185 217h1v1h-1zM233 217h1v1h-1zM186 216h1v1h-1zM233 216h1v1h-1zM186 215h1v1h-1zM232 215h1v1h-1zM187 214h1v1h-1zM232 214h1v1h-1zM197 205h1v1h-1zM228 205h1v1h-1zM198 204h2v1h-2zM228 204h1v1h-1zM200 203h2v1h-2zM228 203h1v1h-1zM202 202h1v1h-1zM227 202h1v1h-1zM203 201h2v1h-2zM227 201h1v1h-1zM205 200h2v1h-2zM227 200h1v1h-1zM207 199h1v1h-1zM226 199h1v1h-1zM208 198h2v1h-2zM226 198h1v1h-1zM210 197h2v1h-2zM225 197h1v1h-1zM212 196h1v1h-1zM225 196h1v1h-1zM213 195h2v1h-2zM215 194h2v1h-2zM217 193h1v1h-1zM229 206h1v1h-1zM229 207h1v1h-1zM230 208h1v1h-1zM230 209h1v1h-1zM230 210h1v1h-1zM231 211h1v1h-1zM231 212h1v1h-1zM231 213h1v1h-1zM242 240h1v1h-1zM242 241h1v1h-1zM242 242h1v1h-1zM243 243h1v1h-1zM243 244h1v1h-1zM243 245h1v1h-1zM244 246h1v1h-1zM244 247h1v1h-1zM245 248h1v1h-1zM245 249h1v1h-1zM245 250h1v1h-1zM251 265h1v1h-1zM251 266h1v1h-1zM252 267h1v1h-1zM252 268h1v1h-1zM252 269h1v1h-1zM253 270h1v1h-1zM253 271h1v1h-1zM254 272h1v1h-1zM257 280h1v1h-1zM257 281h1v1h-1zM257 282h1v1h-1zM258 283h1v1h-1zM258 284h1v1h-1zM258 285h1v1h-1zM259 286h1v1h-1zM259 287h1v1h-1z" fill="#cc6600"/><path d="M88 323h7v1h-7zM88 324h6v1h-6zM89 325h5v1h-5zM89 326h4v1h-4zM90 327h3v1h-3zM90 328h2v1h-2zM91 329h1v1h-1z" fill="#cc6600"/><path d="M120 278h7v1h-7zM120 279h6v1h-6zM121 280h5v1h-5zM121 281h4v1h-4zM122 282h3v1h-3zM122 283h2v1h-2zM123 284h1v1h-1z" fill="#cc6600"/><path d="M142 266h7v1h-7zM142 267h6v1h-6zM143 268h5v1h-5zM143 269h4v1h-4zM144 270h3v1h-3zM144 271h2v1h-2zM145 272h1v1h-1z" fill="#cc6600"/><path d="M164 241h7v1h-7zM164 242h6v1h-6zM165 243h5v1h-5zM165 244h4v1h-4zM166 245h3v1h-3zM166 246h2v1h-2zM167 247h1v1h-1z" fill="#cc6600"/><path d="M188 204h7v1h-7zM188 205h6v1h-6zM189 206h5v1h-5zM189 207h4v1h-4zM190 208h3v1h-3zM190 209h2v1h-2zM191 210h1v1h-1z" fill="#cc6600"/><path d="M220 186h7v1h-7zM220 187h6v1h-6zM221 188h5v1h-5zM221 189h4v1h-4zM222 190h3v1h-3zM222 191h2v1h-2zM223 192h1v1h-1z" fill="#cc6600"/><path d="M259 291h7v1h-7zM259 292h6v1h-6zM260 293h5v1h-5zM260 294h4v1h-4zM261 295h3v1h-3zM261 296h2v1h-2zM262 297h1v1h-1z" fill="#cc6600"/><path d="M308 316h1v1h-1zM309 315h1v1h-1zM310 314h1v1h-1zM311 313h1v1h-1zM312 312h1v1h-1zM312 311h1v1h-1zM313 310h1v1h-1zM314 309h1v1h-1zM315 308h1v1h-1zM316 307h1v1h-1zM317 306h1v1h-1zM473 306h1v1h-1zM318 305h1v1h-1zM473 305h1v1h-1zM319 304h1v1h-1zM472 304h1v1h-1zM320 303h1v1h-1zM472 303h1v1h-1zM320 302h1v1h-1zM471 302h1v1h-1zM321 301h1v1h-1zM471 301h1v1h-1zM322 300h1v1h-1zM471 300h1v1h-1zM323 299h1v1h-1zM470 299h1v1h-1zM324 298h1v1h-1zM470 298h1v1h-1zM325 297h1v1h-1zM469 297h1v1h-1zM326 296h1v1h-1zM469 296h1v1h-1zM327 295h1v1h-1zM469 295h1v1h-1zM327 294h1v1h-1zM468 294h1v1h-1zM328 293h1v1h-1zM468 293h1v1h-1zM329 292h1v1h-1zM467 292h1v1h-1zM330 291h1v1h-1zM467 291h1v1h-1zM331 290h1v1h-1zM467 290h1v1h-1zM339 278h1v1h-1zM462 278h1v1h-1zM340 277h1v1h-1zM461 277h1v1h-1zM340 276h1v1h-1zM461 276h1v1h-1zM341 275h1v1h-1zM461 275h1v1h-1zM341 274h1v1h-1zM460 274h1v1h-1zM342 273h1v1h-1zM460 273h1v1h-1zM343 272h1v1h-1zM459 272h1v1h-1zM343 271h1v1h-1zM459 271h1v1h-1zM344 270h1v1h-1zM459 270h1v1h-1zM344 269h1v1h-1zM458 269h1v1h-1zM345 268h1v1h-1zM458 268h1v1h-1zM346 267h1v1h-1zM457 267h1v1h-1zM346 266h1v1h-1zM457 266h1v1h-1zM347 265h1v1h-1zM457 265h1v1h-1zM347 264h1v1h-1zM456 264h1v1h-1zM348 263h1v1h-1zM456 263h1v1h-1zM349 262h1v1h-1zM455 262h1v1h-1zM349 261h1v1h-1zM455 261h1v1h-1zM350 260h1v1h-1zM455 260h1v1h-1zM350 259h1v1h-1zM454 259h1v1h-1zM351 258h1v1h-1zM454 258h1v1h-1zM352 257h1v1h-1zM453 257h1v1h-1zM352 256h1v1h-1zM453 256h1v1h-1zM353 255h1v1h-1zM453 255h1v1h-1zM353 254h1v1h-1zM452 254h1v1h-1zM354 253h1v1h-1zM452 253h1v1h-1zM359 241h1v1h-1zM447 241h1v1h-1zM359 240h1v1h-1zM447 240h1v1h-1zM360 239h1v1h-1zM446 239h1v1h-1zM360 238h1v1h-1zM446 238h1v1h-1zM360 237h1v1h-1zM445 237h1v1h-1zM360 236h1v1h-1zM445 236h1v1h-1zM361 235h1v1h-1zM445 235h1v1h-1zM361 234h1v1h-1zM444 234h1v1h-1zM361 233h1v1h-1zM444 233h1v1h-1zM361 232h1v1h-1zM443 232h1v1h-1zM362 231h1v1h-1zM443 231h1v1h-1zM362 230h1v1h-1zM443 230h1v1h-1zM362 229h1v1h-1zM442 229h1v1h-1zM362 228h1v1h-1zM442 228h1v1h-1zM363 227h1v1h-1zM441 227h1v1h-1zM363 226h1v1h-1zM441 226h1v1h-1zM363 225h1v1h-1zM441 225h1v1h-1zM364 224h1v1h-1zM440 224h1v1h-1zM364 223h1v1h-1zM440 223h1v1h-1zM364 222h1v1h-1zM439 222h1v1h-1zM364 221h1v1h-1zM439 221h1v1h-1zM365 220h1v1h-1zM439 220h1v1h-1zM365 219h1v1h-1zM438 219h1v1h-1zM365 218h1v1h-1zM438 218h1v1h-1zM365 217h1v1h-1zM437 217h1v1h-1zM366 216h1v1h-1zM437 216h1v1h-1zM366 215h1v1h-1zM366 214h1v1h-1zM367 213h1v1h-1zM367 212h1v1h-1zM367 211h1v1h-1zM367 210h1v1h-1zM368 209h1v1h-1zM368 208h1v1h-1zM368 207h1v1h-1zM368 206h1v1h-1zM429 206h1v1h-1zM369 205h1v1h-1zM428 205h1v1h-1zM369 204h1v1h-1zM426 204h2v1h-2zM369 203h1v1h-1zM425 203h1v1h-1zM369 202h1v1h-1zM424 202h1v1h-1zM370 201h1v1h-1zM423 201h1v1h-1zM370 200h1v1h-1zM421 200h2v1h-2zM370 199h1v1h-1zM420 199h1v1h-1zM371 198h1v1h-1zM419 198h1v1h-1zM371 197h1v1h-1zM418 197h1v1h-1zM371 196h1v1h-1zM416 196h2v1h-2zM371 195h1v1h-1zM415 195h1v1h-1zM372 194h1v1h-1zM414 194h1v1h-1zM372 193h1v1h-1zM413 193h1v1h-1zM372 192h1v1h-1zM411 192h2v1h-2zM372 191h1v1h-1zM410 191h1v1h-1zM373 190h1v1h-1zM409 190h1v1h-1zM373 189h1v1h-1zM373 188h1v1h-1zM374 187h1v1h-1zM374 186h1v1h-1zM374 185h1v1h-1zM374 184h1v1h-1zM375 183h1v1h-1zM375 182h1v1h-1zM397 182h1v1h-1zM375 181h1v1h-1zM396 181h1v1h-1zM375 180h1v1h-1zM394 180h2v1h-2zM376 179h1v1h-1zM393 179h1v1h-1zM376 178h1v1h-1zM392 178h1v1h-1zM376 177h1v1h-1zM391 177h1v1h-1zM376 176h1v1h-1zM390 176h1v1h-1zM377 175h1v1h-1zM388 175h2v1h-2zM377 174h1v1h-1zM387 174h1v1h-1zM385 172h1v1h-1zM386 173h1v1h-1zM447 242h1v1h-1zM448 243h1v1h-1zM448 244h1v1h-1zM449 245h1v1h-1zM449 246h1v1h-1zM449 247h1v1h-1zM450 248h1v1h-1zM450 249h1v1h-1zM451 250h1v1h-1zM451 251h1v1h-1zM451 252h1v1h-1zM462 279h1v1h-1zM463 280h1v1h-1zM463 281h1v1h-1zM463 282h1v1h-1zM464 283h1v1h-1zM464 284h1v1h-1zM465 285h1v1h-1zM465 286h1v1h-1zM465 287h1v1h-1zM466 288h1v1h-1zM466 289h1v1h-1z" fill="#008800"/><path d="M303 318h1v1h-1zM302 319h2v1h-2zM302 320h3v1h-3zM301 321h4v1h-4zM301 322h5v1h-5zM300 323h6v1h-6zM300 324h7v1h-7zM299 325h8v1h-8z" fill="#008800"/><path d="M336 280h1v1h-1zM335 281h2v1h-2zM335 282h3v1h-3zM334 283h4v1h-4zM334 284h5v1h-5zM333 285h6v1h-6zM333 286h7v1h-7zM332 287h8v1h-8z" fill="#008800"/><path d="M357 243h1v1h-1zM356 244h2v1h-2zM356 245h3v1h-3zM355 246h4v1h-4zM355 247h5v1h-5zM354 248h6v1h-6zM354 249h7v1h-7zM353 250h8v1h-8z" fill="#008800"/><path d="M379 164h1v1h-1zM378 165h2v1h-2zM378 166h3v1h-3zM377 167h4v1h-4zM377 168h5v1h-5zM376 169h6v1h-6zM376 170h7v1h-7zM375 171h8v1h-8z" fill="#008800"/><path d="M403 182h1v1h-1zM402 183h2v1h-2zM402 184h3v1h-3zM401 185h4v1h-4zM401 186h5v1h-5zM400 187h6v1h-6zM400 188h7v1h-7zM399 189h8v1h-8z" fill="#008800"/><path d="M435 206h1v1h-1zM434 207h2v1h-2zM434 208h3v1h-3zM433 209h4v1h-4zM433 210h5v1h-5zM432 211h6v1h-6zM432 212h7v1h-7zM431 213h8v1h-8z" fill="#008800"/><path d="M475 308h1v1h-1zM474 309h2v1h-2zM474 310h3v1h-3zM473 311h4v1h-4zM473 312h5v1h-5zM472 313h6v1h-6zM472 314h7v1h-7zM471 315h8v1h-8z" fill="#008800"/><path d="M309 322h1v1h-1zM310 321h1v1h-1zM311 320h2v1h-2zM313 319h1v1h-1zM314 318h1v1h-1zM315 317h2v1h-2zM317 316h1v1h-1zM318 315h1v1h-1zM319 314h2v1h-2zM321 313h1v1h-1zM322 312h1v1h-1zM323 311h2v1h-2zM325 310h1v1h-1zM326 309h1v1h-1zM327 308h2v1h-2zM329 307h1v1h-1zM330 306h1v1h-1zM342 301h5v1h-5zM347 302h5v1h-5zM358 296h1v1h-1zM473 296h1v1h-1zM358 295h1v1h-1zM473 295h1v1h-1zM358 294h1v1h-1zM472 294h1v1h-1zM358 293h1v1h-1zM472 293h1v1h-1zM359 292h1v1h-1zM471 292h1v1h-1zM359 291h1v1h-1zM471 291h1v1h-1zM359 290h1v1h-1zM471 290h1v1h-1zM359 289h1v1h-1zM470 289h1v1h-1zM359 288h1v1h-1zM470 288h1v1h-1zM359 287h1v1h-1zM469 287h1v1h-1zM360 286h1v1h-1zM469 286h1v1h-1zM360 285h1v1h-1zM469 285h1v1h-1zM360 284h1v1h-1zM468 284h1v1h-1zM360 283h1v1h-1zM468 283h1v1h-1zM360 282h1v1h-1zM467 282h1v1h-1zM360 281h1v1h-1zM467 281h1v1h-1zM360 280h1v1h-1zM467 280h1v1h-1zM361 279h1v1h-1zM466 279h1v1h-1zM361 278h1v1h-1zM466 278h1v1h-1zM361 277h1v1h-1zM465 277h1v1h-1zM361 276h1v1h-1zM465 276h1v1h-1zM361 275h1v1h-1zM465 275h1v1h-1zM361 274h1v1h-1zM464 274h1v1h-1zM361 273h1v1h-1zM464 273h1v1h-1zM362 272h1v1h-1zM463 272h1v1h-1zM362 271h1v1h-1zM463 271h1v1h-1zM362 270h1v1h-1zM462 270h1v1h-1zM362 269h1v1h-1zM462 269h1v1h-1zM362 268h1v1h-1zM462 268h1v1h-1zM362 267h1v1h-1zM461 267h1v1h-1zM363 266h1v1h-1zM461 266h1v1h-1zM363 265h1v1h-1zM460 265h1v1h-1zM363 264h1v1h-1zM460 264h1v1h-1zM363 263h1v1h-1zM460 263h1v1h-1zM363 262h1v1h-1zM459 262h1v1h-1zM363 261h1v1h-1zM459 261h1v1h-1zM363 260h1v1h-1zM458 260h1v1h-1zM364 259h1v1h-1zM458 259h1v1h-1zM364 258h1v1h-1zM458 258h1v1h-1zM364 257h1v1h-1zM457 257h1v1h-1zM364 256h1v1h-1zM457 256h1v1h-1zM364 255h1v1h-1zM456 255h1v1h-1zM364 254h1v1h-1zM456 254h1v1h-1zM365 253h1v1h-1zM456 253h1v1h-1zM365 252h1v1h-1zM455 252h1v1h-1zM365 251h1v1h-1zM455 251h1v1h-1zM365 250h1v1h-1zM454 250h1v1h-1zM365 249h1v1h-1zM454 249h1v1h-1zM365 248h1v1h-1zM454 248h1v1h-1zM365 247h1v1h-1zM453 247h1v1h-1zM366 246h1v1h-1zM453 246h1v1h-1zM366 245h1v1h-1zM452 245h1v1h-1zM366 244h1v1h-1zM452 244h1v1h-1zM366 243h1v1h-1zM452 243h1v1h-1zM366 242h1v1h-1zM451 242h1v1h-1zM366 241h1v1h-1zM451 241h1v1h-1zM366 240h1v1h-1zM450 240h1v1h-1zM367 239h1v1h-1zM450 239h1v1h-1zM367 238h1v1h-1zM450 238h1v1h-1zM367 237h1v1h-1zM449 237h1v1h-1zM367 236h1v1h-1zM449 236h1v1h-1zM367 235h1v1h-1zM448 235h1v1h-1zM367 234h1v1h-1zM448 234h1v1h-1zM368 233h1v1h-1zM448 233h1v1h-1zM368 232h1v1h-1zM447 232h1v1h-1zM368 231h1v1h-1zM447 231h1v1h-1zM368 230h1v1h-1zM446 230h1v1h-1zM368 229h1v1h-1zM446 229h1v1h-1zM368 228h1v1h-1zM445 228h1v1h-1zM368 227h1v1h-1zM445 227h1v1h-1zM369 226h1v1h-1zM445 226h1v1h-1zM369 225h1v1h-1zM444 225h1v1h-1zM369 224h1v1h-1zM444 224h1v1h-1zM369 223h1v1h-1zM443 223h1v1h-1zM369 222h1v1h-1zM443 222h1v1h-1zM369 221h1v1h-1zM443 221h1v1h-1zM370 220h1v1h-1zM442 220h1v1h-1zM370 219h1v1h-1zM442 219h1v1h-1zM370 218h1v1h-1zM441 218h1v1h-1zM370 217h1v1h-1zM441 217h1v1h-1zM370 216h1v1h-1zM441 216h1v1h-1zM370 215h1v1h-1zM440 215h1v1h-1zM370 214h1v1h-1zM440 214h1v1h-1zM371 213h1v1h-1zM439 213h1v1h-1zM371 212h1v1h-1zM439 212h1v1h-1zM371 211h1v1h-1zM439 211h1v1h-1zM371 210h1v1h-1zM438 210h1v1h-1zM371 209h1v1h-1zM438 209h1v1h-1zM371 208h1v1h-1zM437 208h1v1h-1zM371 207h1v1h-1zM437 207h1v1h-1zM372 206h1v1h-1zM372 205h1v1h-1zM372 204h1v1h-1zM372 203h1v1h-1zM372 202h1v1h-1zM372 201h1v1h-1zM373 200h1v1h-1zM373 199h1v1h-1zM373 198h1v1h-1zM373 197h1v1h-1zM373 196h1v1h-1zM373 195h1v1h-1zM433 195h1v1h-1zM373 194h1v1h-1zM433 194h1v1h-1zM374 193h1v1h-1zM432 193h1v1h-1zM374 192h1v1h-1zM432 192h1v1h-1zM374 191h1v1h-1zM432 191h1v1h-1zM374 190h1v1h-1zM431 190h1v1h-1zM374 189h1v1h-1zM431 189h1v1h-1zM374 188h1v1h-1zM431 188h1v1h-1zM375 187h1v1h-1zM431 187h1v1h-1zM375 186h1v1h-1zM430 186h1v1h-1zM375 185h1v1h-1zM430 185h1v1h-1zM375 184h1v1h-1zM430 184h1v1h-1zM375 183h1v1h-1zM429 183h1v1h-1zM375 182h1v1h-1zM429 182h1v1h-1zM375 181h1v1h-1zM429 181h1v1h-1zM376 180h1v1h-1zM428 180h1v1h-1zM376 179h1v1h-1zM428 179h1v1h-1zM376 178h1v1h-1zM428 178h1v1h-1zM376 177h1v1h-1zM427 177h1v1h-1zM376 176h1v1h-1zM427 176h1v1h-1zM376 175h1v1h-1zM427 175h1v1h-1zM376 174h1v1h-1zM426 174h1v1h-1zM377 173h1v1h-1zM426 173h1v1h-1zM377 172h1v1h-1zM426 172h1v1h-1zM377 171h1v1h-1zM426 171h1v1h-1zM377 170h1v1h-1zM425 170h1v1h-1zM377 169h1v1h-1zM425 169h1v1h-1zM377 168h1v1h-1zM425 168h1v1h-1zM378 167h1v1h-1zM424 167h1v1h-1zM378 166h1v1h-1zM424 166h1v1h-1zM378 165h1v1h-1zM424 165h1v1h-1zM378 164h1v1h-1zM423 164h1v1h-1zM381 152h1v1h-1zM420 152h1v1h-1zM381 151h1v1h-1zM419 151h1v1h-1zM382 150h1v1h-1zM419 150h1v1h-1zM382 149h1v1h-1zM419 149h1v1h-1zM383 148h1v1h-1zM418 148h1v1h-1zM383 147h1v1h-1zM418 147h1v1h-1zM384 146h1v1h-1zM418 146h1v1h-1zM384 145h1v1h-1zM417 145h1v1h-1zM384 144h1v1h-1zM417 144h1v1h-1zM385 143h1v1h-1zM417 143h1v1h-1zM385 142h1v1h-1zM417 142h1v1h-1zM386 141h1v1h-1zM416 141h1v1h-1zM386 140h1v1h-1zM416 140h1v1h-1zM387 139h1v1h-1zM416 139h1v1h-1zM387 138h1v1h-1zM415 138h1v1h-1zM387 137h1v1h-1zM415 137h1v1h-1zM388 136h1v1h-1zM415 136h1v1h-1zM388 135h1v1h-1zM414 135h1v1h-1zM389 134h1v1h-1zM414 134h1v1h-1zM389 133h1v1h-1zM414 133h1v1h-1zM390 132h1v1h-1zM413 132h1v1h-1zM390 131h1v1h-1zM413 131h1v1h-1zM390 130h1v1h-1zM413 130h1v1h-1zM391 129h1v1h-1zM412 129h1v1h-1zM391 128h1v1h-1zM412 128h1v1h-1zM392 127h1v1h-1zM412 127h1v1h-1zM392 126h1v1h-1zM412 126h1v1h-1zM392 125h1v1h-1zM411 125h1v1h-1zM393 124h1v1h-1zM411 124h1v1h-1zM393 123h1v1h-1zM411 123h1v1h-1zM394 122h1v1h-1zM410 122h1v1h-1zM394 121h1v1h-1zM410 121h1v1h-1zM395 120h1v1h-1zM410 120h1v1h-1zM395 119h1v1h-1zM409 119h1v1h-1zM395 118h1v1h-1zM409 118h1v1h-1zM396 117h1v1h-1zM409 117h1v1h-1zM396 116h1v1h-1zM408 116h1v1h-1zM397 115h1v1h-1zM408 115h1v1h-1zM397 114h1v1h-1zM408 114h1v1h-1zM398 113h1v1h-1zM407 113h1v1h-1zM398 112h1v1h-1zM407 112h1v1h-1zM398 111h1v1h-1zM407 111h1v1h-1zM399 110h1v1h-1zM407 110h1v1h-1zM399 109h1v1h-1zM406 109h1v1h-1zM400 108h1v1h-1zM406 108h1v1h-1zM400 107h1v1h-1zM406 107h1v1h-1zM401 106h1v1h-1zM405 106h1v1h-1zM401 105h1v1h-1zM405 105h1v1h-1zM420 153h1v1h-1zM420 154h1v1h-1zM421 155h1v1h-1zM421 156h1v1h-1zM421 157h1v1h-1zM421 158h1v1h-1zM422 159h1v1h-1zM422 160h1v1h-1zM422 161h1v1h-1zM423 162h1v1h-1zM423 163h1v1h-1z" fill="#ae0000"/><path d="M301 323h4v1h1v1h1v4h-1v1h-1v1h-4v-1h-1v-1h-1v-4h1v-1h1z" fill="#ae0000"/><path d="M334 297h4v1h1v1h1v4h-1v1h-1v1h-4v-1h-1v-1h-1v-4h1v-1h1z" fill="#ae0000"/><path d="M355 298h4v1h1v1h1v4h-1v1h-1v1h-4v-1h-1v-1h-1v-4h1v-1h1z" fill="#ae0000"/><path d="M377 154h4v1h1v1h1v4h-1v1h-1v1h-4v-1h-1v-1h-1v-4h1v-1h1z" fill="#ae0000"/><path d="M401 95h4v1h1v1h1v4h-1v1h-1v1h-4v-1h-1v-1h-1v-4h1v-1h1z" fill="#ae0000"/><path d="M433 197h4v1h1v1h1v4h-1v1h-1v1h-4v-1h-1v-1h-1v-4h1v-1h1z" fill="#ae0000"/><path d="M473 298h4v1h1v1h1v4h-1v1h-1v1h-4v-1h-1v-1h-1v-4h1v-1h1z" fill="#ae0000"/><path d="M309 244h1v1h-1zM366 244h5v1h-5zM310 243h1v1h-1zM363 243h3v1h-3zM311 242h1v1h-1zM312 241h1v1h-1zM313 240h1v1h-1zM314 239h1v1h-1zM314 238h1v1h-1zM315 237h1v1h-1zM316 236h1v1h-1zM317 235h1v1h-1zM352 235h1v1h-1zM318 234h1v1h-1zM351 234h1v1h-1zM319 233h1v1h-1zM350 233h1v1h-1zM320 232h1v1h-1zM350 232h1v1h-1zM321 231h1v1h-1zM349 231h1v1h-1zM322 230h1v1h-1zM348 230h1v1h-1zM323 229h1v1h-1zM347 229h1v1h-1zM324 228h1v1h-1zM347 228h1v1h-1zM325 227h1v1h-1zM346 227h1v1h-1zM325 226h1v1h-1zM345 226h1v1h-1zM326 225h1v1h-1zM344 225h1v1h-1zM327 224h1v1h-1zM343 224h1v1h-1zM328 223h1v1h-1zM343 223h1v1h-1zM329 222h1v1h-1zM342 222h1v1h-1zM330 221h1v1h-1zM341 221h1v1h-1zM371 245h3v1h-3zM383 253h1v1h-1zM384 254h1v1h-1zM384 255h1v1h-1zM385 256h1v1h-1zM385 257h1v1h-1zM386 258h1v1h-1zM387 259h1v1h-1zM387 260h1v1h-1zM388 261h1v1h-1zM389 262h1v1h-1zM441 262h7v1h-7zM389 263h1v1h-1zM448 263h14v1h-14zM390 264h1v1h-1zM462 264h8v1h-8zM390 265h1v1h-1zM391 266h1v1h-1zM429 266h1v1h-1zM392 267h1v1h-1zM427 267h2v1h-2zM392 268h1v1h-1zM426 268h1v1h-1zM393 269h1v1h-1zM424 269h2v1h-2zM393 270h1v1h-1zM423 270h1v1h-1zM394 271h1v1h-1zM422 271h1v1h-1zM395 272h1v1h-1zM420 272h2v1h-2zM395 273h1v1h-1zM419 273h1v1h-1zM396 274h1v1h-1zM417 274h2v1h-2zM397 275h1v1h-1zM416 275h1v1h-1zM397 276h1v1h-1zM414 276h2v1h-2zM398 277h1v1h-1zM413 277h1v1h-1zM398 278h1v1h-1zM412 278h1v1h-1zM399 279h1v1h-1zM410 279h2v1h-2zM409 280h1v1h-1z" fill="#0000a8"/><rect x="299" y="246" width="8" height="8" fill="#0000a8"/><rect x="332" y="211" width="8" height="8" fill="#0000a8"/><rect x="353" y="237" width="8" height="8" fill="#0000a8"/><rect x="375" y="243" width="8" height="8" fill="#0000a8"/><rect x="399" y="281" width="8" height="8" fill="#0000a8"/><rect x="431" y="257" width="8" height="8" fill="#0000a8"/><rect x="471" y="261" width="8" height="8" fill="#0000a8"/><path d="M308 309h1v1h-1zM416 309h2v1h-2zM309 308h1v1h-1zM413 308h3v1h-3zM310 307h1v1h-1zM411 307h2v1h-2zM310 306h1v1h-1zM409 306h2v1h-2zM311 305h1v1h-1zM312 304h1v1h-1zM313 303h1v1h-1zM313 302h1v1h-1zM314 301h1v1h-1zM315 300h1v1h-1zM316 299h1v1h-1zM316 298h1v1h-1zM401 298h1v1h-1zM317 297h1v1h-1zM401 297h1v1h-1zM318 296h1v1h-1zM400 296h1v1h-1zM319 295h1v1h-1zM400 295h1v1h-1zM320 294h1v1h-1zM399 294h1v1h-1zM320 293h1v1h-1zM399 293h1v1h-1zM321 292h1v1h-1zM399 292h1v1h-1zM322 291h1v1h-1zM398 291h1v1h-1zM323 290h1v1h-1zM398 290h1v1h-1zM323 289h1v1h-1zM397 289h1v1h-1zM324 288h1v1h-1zM397 288h1v1h-1zM325 287h1v1h-1zM397 287h1v1h-1zM326 286h1v1h-1zM396 286h1v1h-1zM326 285h1v1h-1zM396 285h1v1h-1zM327 284h1v1h-1zM395 284h1v1h-1zM328 283h1v1h-1zM395 283h1v1h-1zM329 282h1v1h-1zM395 282h1v1h-1zM329 281h1v1h-1zM394 281h1v1h-1zM330 280h1v1h-1zM394 280h1v1h-1zM331 279h1v1h-1zM393 279h1v1h-1zM339 267h1v1h-1zM389 267h1v1h-1zM340 266h1v1h-1zM388 266h1v1h-1zM340 265h1v1h-1zM388 265h1v1h-1zM341 264h1v1h-1zM387 264h1v1h-1zM341 263h1v1h-1zM387 263h1v1h-1zM342 262h1v1h-1zM387 262h1v1h-1zM342 261h1v1h-1zM386 261h1v1h-1zM343 260h1v1h-1zM386 260h1v1h-1zM343 259h1v1h-1zM385 259h1v1h-1zM344 258h1v1h-1zM385 258h1v1h-1zM345 257h1v1h-1zM385 257h1v1h-1zM345 256h1v1h-1zM384 256h1v1h-1zM346 255h1v1h-1zM384 255h1v1h-1zM346 254h1v1h-1zM383 254h1v1h-1zM347 253h1v1h-1zM383 253h1v1h-1zM347 252h1v1h-1zM383 252h1v1h-1zM348 251h1v1h-1zM382 251h1v1h-1zM348 250h1v1h-1zM382 250h1v1h-1zM349 249h1v1h-1zM381 249h1v1h-1zM350 248h1v1h-1zM381 248h1v1h-1zM350 247h1v1h-1zM351 246h1v1h-1zM351 245h1v1h-1zM352 244h1v1h-1zM352 243h1v1h-1zM353 242h1v1h-1zM353 241h1v1h-1zM354 240h1v1h-1zM372 240h2v1h-2zM363 236h2v1h-2zM365 237h2v1h-2zM367 238h3v1h-3zM370 239h2v1h-2zM389 268h1v1h-1zM389 269h1v1h-1zM390 270h1v1h-1zM390 271h1v1h-1zM391 272h1v1h-1zM391 273h1v1h-1zM391 274h1v1h-1zM392 275h1v1h-1zM392 276h1v1h-1zM393 277h1v1h-1zM393 278h1v1h-1zM418 310h3v1h-3zM421 311h2v1h-2zM423 312h3v1h-3zM426 313h2v1h-2zM428 314h2v1h-2zM441 317h7v1h-7zM448 318h14v1h-14zM462 319h8v1h-8z" fill="#cc6600"/><path d="M300 311h7v1h-7zM300 312h6v1h-6zM301 313h5v1h-5zM301 314h4v1h-4zM302 315h3v1h-3zM302 316h2v1h-2zM303 317h1v1h-1z" fill="#cc6600"/><path d="M333 269h7v1h-7zM333 270h6v1h-6zM334 271h5v1h-5zM334 272h4v1h-4zM335 273h3v1h-3zM335 274h2v1h-2zM336 275h1v1h-1z" fill="#cc6600"/><path d="M354 230h7v1h-7zM354 231h6v1h-6zM355 232h5v1h-5zM355 233h4v1h-4zM356 234h3v1h-3zM356 235h2v1h-2zM357 236h1v1h-1z" fill="#cc6600"/><path d="M376 238h7v1h-7zM376 239h6v1h-6zM377 240h5v1h-5zM377 241h4v1h-4zM378 242h3v1h-3zM378 243h2v1h-2zM379 244h1v1h-1z" fill="#cc6600"/><path d="M400 300h7v1h-7zM400 301h6v1h-6zM401 302h5v1h-5zM401 303h4v1h-4zM402 304h3v1h-3zM402 305h2v1h-2zM403 306h1v1h-1z" fill="#cc6600"/><path d="M432 312h7v1h-7zM432 313h6v1h-6zM433 314h5v1h-5zM433 315h4v1h-4zM434 316h3v1h-3zM434 317h2v1h-2zM435 318h1v1h-1z" fill="#cc6600"/><path d="M472 316h7v1h-7zM472 317h6v1h-6zM473 318h5v1h-5zM473 319h4v1h-4zM474 320h3v1h-3zM474 321h2v1h-2zM475 322h1v1h-1z" fill="#cc6600"/><path d="M521 313h1v1h-1zM683 313h1v1h-1zM522 312h1v1h-1zM682 312h1v1h-1zM523 311h1v1h-1zM682 311h1v1h-1zM524 310h1v1h-1zM681 310h1v1h-1zM524 309h1v1h-1zM681 309h1v1h-1zM525 308h1v1h-1zM680 308h1v1h-1zM526 307h1v1h-1zM679 307h1v1h-1zM527 306h1v1h-1zM679 306h1v1h-1zM528 305h1v1h-1zM678 305h1v1h-1zM529 304h1v1h-1zM677 304h1v1h-1zM529 303h1v1h-1zM677 303h1v1h-1zM530 302h1v1h-1zM676 302h1v1h-1zM531 301h1v1h-1zM676 301h1v1h-1zM532 300h1v1h-1zM675 300h1v1h-1zM533 299h1v1h-1zM674 299h1v1h-1zM534 298h1v1h-1zM674 298h1v1h-1zM535 297h1v1h-1zM673 297h1v1h-1zM535 296h1v1h-1zM673 296h1v1h-1zM536 295h1v1h-1zM672 295h1v1h-1zM537 294h1v1h-1zM671 294h1v1h-1zM538 293h1v1h-1zM671 293h1v1h-1zM539 292h1v1h-1zM670 292h1v1h-1zM540 291h1v1h-1zM669 291h1v1h-1zM540 290h1v1h-1zM669 290h1v1h-1zM541 289h1v1h-1zM668 289h1v1h-1zM542 288h1v1h-1zM668 288h1v1h-1zM543 287h1v1h-1zM667 287h1v1h-1zM554 275h1v1h-1zM660 275h1v1h-1zM555 274h1v1h-1zM659 274h1v1h-1zM556 273h1v1h-1zM658 273h1v1h-1zM557 272h1v1h-1zM658 272h1v1h-1zM558 271h1v1h-1zM657 271h1v1h-1zM559 270h1v1h-1zM657 270h1v1h-1zM560 269h1v1h-1zM656 269h1v1h-1zM561 268h1v1h-1zM655 268h1v1h-1zM562 267h1v1h-1zM655 267h1v1h-1zM563 266h1v1h-1zM654 266h1v1h-1zM564 265h1v1h-1zM653 265h1v1h-1zM576 253h1v1h-1zM609 253h1v1h-1zM577 252h1v1h-1zM608 252h1v1h-1zM578 251h1v1h-1zM607 251h1v1h-1zM579 250h1v1h-1zM606 250h1v1h-1zM579 249h1v1h-1zM605 249h1v1h-1zM580 248h1v1h-1zM604 248h1v1h-1zM581 247h1v1h-1zM604 247h1v1h-1zM582 246h1v1h-1zM603 246h1v1h-1zM583 245h1v1h-1zM602 245h1v1h-1zM584 244h1v1h-1zM601 244h1v1h-1zM584 243h1v1h-1zM600 243h1v1h-1zM585 242h1v1h-1zM599 242h1v1h-1zM586 241h1v1h-1zM598 241h1v1h-1zM610 254h1v1h-1zM622 259h4v1h-4zM626 258h6v1h-6zM632 257h6v1h-6zM638 256h4v1h-4zM651 261h1v1h-1zM652 262h1v1h-1zM652 263h1v1h-1zM653 264h1v1h-1zM660 276h1v1h-1zM661 277h1v1h-1zM661 278h1v1h-1zM662 279h1v1h-1zM663 280h1v1h-1zM663 281h1v1h-1zM664 282h1v1h-1zM665 283h1v1h-1zM665 284h1v1h-1zM666 285h1v1h-1zM666 286h1v1h-1z" fill="#008800"/><path d="M516 315h1v1h-1zM515 316h2v1h-2zM515 317h3v1h-3zM514 318h4v1h-4zM514 319h5v1h-5zM513 320h6v1h-6zM513 321h7v1h-7zM512 322h8v1h-8z" fill="#008800"/><path d="M548 277h1v1h-1zM547 278h2v1h-2zM547 279h3v1h-3zM546 280h4v1h-4zM546 281h5v1h-5zM545 282h6v1h-6zM545 283h7v1h-7zM544 284h8v1h-8z" fill="#008800"/><path d="M570 255h1v1h-1zM569 256h2v1h-2zM569 257h3v1h-3zM568 258h4v1h-4zM568 259h5v1h-5zM567 260h6v1h-6zM567 261h7v1h-7zM566 262h8v1h-8z" fill="#008800"/><path d="M592 231h1v1h-1zM591 232h2v1h-2zM591 233h3v1h-3zM590 234h4v1h-4zM590 235h5v1h-5zM589 236h6v1h-6zM589 237h7v1h-7zM588 238h8v1h-8z" fill="#008800"/><path d="M616 256h1v1h-1zM615 257h2v1h-2zM615 258h3v1h-3zM614 259h4v1h-4zM614 260h5v1h-5zM613 261h6v1h-6zM613 262h7v1h-7zM612 263h8v1h-8z" fill="#008800"/><path d="M647 251h1v1h-1zM646 252h2v1h-2zM646 253h3v1h-3zM645 254h4v1h-4zM645 255h5v1h-5zM644 256h6v1h-6zM644 257h7v1h-7zM643 258h8v1h-8z" fill="#008800"/><path d="M687 315h1v1h-1zM686 316h2v1h-2zM686 317h3v1h-3zM685 318h4v1h-4zM685 319h5v1h-5zM684 320h6v1h-6zM684 321h7v1h-7zM683 322h8v1h-8z" fill="#008800"/><path d="M522 322h1v1h-1zM523 321h1v1h-1zM524 320h2v1h-2zM526 319h1v1h-1zM527 318h1v1h-1zM528 317h1v1h-1zM529 316h2v1h-2zM531 315h1v1h-1zM532 314h1v1h-1zM533 313h1v1h-1zM534 312h2v1h-2zM536 311h1v1h-1zM537 310h1v1h-1zM538 309h1v1h-1zM539 308h2v1h-2zM541 307h1v1h-1zM542 306h1v1h-1zM549 295h1v1h-1zM685 295h1v1h-1zM549 294h1v1h-1zM685 294h1v1h-1zM549 293h1v1h-1zM684 293h1v1h-1zM550 292h1v1h-1zM684 292h1v1h-1zM550 291h1v1h-1zM684 291h1v1h-1zM550 290h1v1h-1zM684 290h1v1h-1zM550 289h1v1h-1zM683 289h1v1h-1zM551 288h1v1h-1zM683 288h1v1h-1zM551 287h1v1h-1zM683 287h1v1h-1zM551 286h1v1h-1zM682 286h1v1h-1zM551 285h1v1h-1zM682 285h1v1h-1zM552 284h1v1h-1zM682 284h1v1h-1zM552 283h1v1h-1zM682 283h1v1h-1zM552 282h1v1h-1zM681 282h1v1h-1zM552 281h1v1h-1zM681 281h1v1h-1zM553 280h1v1h-1zM681 280h1v1h-1zM553 279h1v1h-1zM681 279h1v1h-1zM553 278h1v1h-1zM680 278h1v1h-1zM553 277h1v1h-1zM680 277h1v1h-1zM554 276h1v1h-1zM680 276h1v1h-1zM554 275h1v1h-1zM679 275h1v1h-1zM554 274h1v1h-1zM679 274h1v1h-1zM554 273h1v1h-1zM679 273h1v1h-1zM555 272h1v1h-1zM679 272h1v1h-1zM555 271h1v1h-1zM678 271h1v1h-1zM555 270h1v1h-1zM678 270h1v1h-1zM555 269h1v1h-1zM678 269h1v1h-1zM556 268h1v1h-1zM677 268h1v1h-1zM556 267h1v1h-1zM677 267h1v1h-1zM556 266h1v1h-1zM677 266h1v1h-1zM556 265h1v1h-1zM677 265h1v1h-1zM557 264h1v1h-1zM676 264h1v1h-1zM557 263h1v1h-1zM676 263h1v1h-1zM557 262h1v1h-1zM676 262h1v1h-1zM557 261h1v1h-1zM676 261h1v1h-1zM558 260h1v1h-1zM675 260h1v1h-1zM558 259h1v1h-1zM675 259h1v1h-1zM558 258h1v1h-1zM675 258h1v1h-1zM558 257h1v1h-1zM674 257h1v1h-1zM559 256h1v1h-1zM674 256h1v1h-1zM559 255h1v1h-1zM674 255h1v1h-1zM559 254h1v1h-1zM674 254h1v1h-1zM559 253h1v1h-1zM673 253h1v1h-1zM560 252h1v1h-1zM673 252h1v1h-1zM560 251h1v1h-1zM673 251h1v1h-1zM560 250h1v1h-1zM672 250h1v1h-1zM560 249h1v1h-1zM672 249h1v1h-1zM561 248h1v1h-1zM672 248h1v1h-1zM561 247h1v1h-1zM672 247h1v1h-1zM561 246h1v1h-1zM671 246h1v1h-1zM561 245h1v1h-1zM671 245h1v1h-1zM562 244h1v1h-1zM671 244h1v1h-1zM562 243h1v1h-1zM670 243h1v1h-1zM562 242h1v1h-1zM670 242h1v1h-1zM562 241h1v1h-1zM670 241h1v1h-1zM563 240h1v1h-1zM670 240h1v1h-1zM563 239h1v1h-1zM669 239h1v1h-1zM563 238h1v1h-1zM669 238h1v1h-1zM563 237h1v1h-1zM669 237h1v1h-1zM564 236h1v1h-1zM669 236h1v1h-1zM564 235h1v1h-1zM668 235h1v1h-1zM564 234h1v1h-1zM668 234h1v1h-1zM564 233h1v1h-1zM668 233h1v1h-1zM565 232h1v1h-1zM667 232h1v1h-1zM565 231h1v1h-1zM667 231h1v1h-1zM565 230h1v1h-1zM667 230h1v1h-1zM565 229h1v1h-1zM667 229h1v1h-1zM566 228h1v1h-1zM666 228h1v1h-1zM566 227h1v1h-1zM666 227h1v1h-1zM566 226h1v1h-1zM666 226h1v1h-1zM566 225h1v1h-1zM665 225h1v1h-1zM567 224h1v1h-1zM665 224h1v1h-1zM567 223h1v1h-1zM665 223h1v1h-1zM567 222h1v1h-1zM665 222h1v1h-1zM567 221h1v1h-1zM664 221h1v1h-1zM568 220h1v1h-1zM664 220h1v1h-1zM568 219h1v1h-1zM664 219h1v1h-1zM568 218h1v1h-1zM664 218h1v1h-1zM568 217h1v1h-1zM663 217h1v1h-1zM569 216h1v1h-1zM663 216h1v1h-1zM569 215h1v1h-1zM663 215h1v1h-1zM569 214h1v1h-1zM662 214h1v1h-1zM572 202h1v1h-1zM659 202h1v1h-1zM572 201h1v1h-1zM659 201h1v1h-1zM573 200h1v1h-1zM658 200h1v1h-1zM573 199h1v1h-1zM658 199h1v1h-1zM573 198h1v1h-1zM658 198h1v1h-1zM574 197h1v1h-1zM658 197h1v1h-1zM574 196h1v1h-1zM657 196h1v1h-1zM574 195h1v1h-1zM657 195h1v1h-1zM574 194h1v1h-1zM657 194h1v1h-1zM575 193h1v1h-1zM657 193h1v1h-1zM575 192h1v1h-1zM656 192h1v1h-1zM575 191h1v1h-1zM656 191h1v1h-1zM576 190h1v1h-1zM656 190h1v1h-1zM576 189h1v1h-1zM655 189h1v1h-1zM576 188h1v1h-1zM655 188h1v1h-1zM577 187h1v1h-1zM655 187h1v1h-1zM577 186h1v1h-1zM655 186h1v1h-1zM577 185h1v1h-1zM654 185h1v1h-1zM578 184h1v1h-1zM654 184h1v1h-1zM578 183h1v1h-1zM654 183h1v1h-1zM578 182h1v1h-1zM653 182h1v1h-1zM579 181h1v1h-1zM653 181h1v1h-1zM579 180h1v1h-1zM653 180h1v1h-1zM579 179h1v1h-1zM653 179h1v1h-1zM579 178h1v1h-1zM652 178h1v1h-1zM580 177h1v1h-1zM652 177h1v1h-1zM580 176h1v1h-1zM652 176h1v1h-1zM580 175h1v1h-1zM652 175h1v1h-1zM581 174h1v1h-1zM651 174h1v1h-1zM581 173h1v1h-1zM651 173h1v1h-1zM581 172h1v1h-1zM651 172h1v1h-1zM582 171h1v1h-1zM650 171h1v1h-1zM582 170h1v1h-1zM650 170h1v1h-1zM582 169h1v1h-1zM650 169h1v1h-1zM583 168h1v1h-1zM650 168h1v1h-1zM583 167h1v1h-1zM649 167h1v1h-1zM583 166h1v1h-1zM649 166h1v1h-1zM583 165h1v1h-1zM584 164h1v1h-1zM584 163h1v1h-1zM584 162h1v1h-1zM585 161h1v1h-1zM585 160h1v1h-1zM585 159h1v1h-1zM586 158h1v1h-1zM586 157h1v1h-1zM586 156h1v1h-1zM587 155h1v1h-1zM587 154h1v1h-1zM643 154h1v1h-1zM587 153h1v1h-1zM642 153h1v1h-1zM588 152h1v1h-1zM642 152h1v1h-1zM588 151h1v1h-1zM641 151h1v1h-1zM588 150h1v1h-1zM641 150h1v1h-1zM588 149h1v1h-1zM640 149h1v1h-1zM589 148h1v1h-1zM640 148h1v1h-1zM589 147h1v1h-1zM639 147h1v1h-1zM589 146h1v1h-1zM638 146h1v1h-1zM590 145h1v1h-1zM638 145h1v1h-1zM590 144h1v1h-1zM637 144h1v1h-1zM597 132h1v1h-1zM630 132h1v1h-1zM598 131h1v1h-1zM630 131h1v1h-1zM599 130h1v1h-1zM629 130h1v1h-1zM599 129h1v1h-1zM629 129h1v1h-1zM600 128h1v1h-1zM628 128h1v1h-1zM601 127h1v1h-1zM627 127h1v1h-1zM602 126h1v1h-1zM627 126h1v1h-1zM602 125h1v1h-1zM626 125h1v1h-1zM603 124h1v1h-1zM626 124h1v1h-1zM604 123h1v1h-1zM625 123h1v1h-1zM605 122h1v1h-1zM625 122h1v1h-1zM606 121h1v1h-1zM624 121h1v1h-1zM606 120h1v1h-1zM623 120h1v1h-1zM607 119h1v1h-1zM623 119h1v1h-1zM608 118h1v1h-1zM622 118h1v1h-1zM609 117h1v1h-1zM622 117h1v1h-1zM609 116h1v1h-1zM621 116h1v1h-1zM610 115h1v1h-1zM621 115h1v1h-1zM611 114h1v1h-1zM620 114h1v1h-1zM631 133h1v1h-1zM632 134h1v1h-1zM632 135h1v1h-1zM633 136h1v1h-1zM633 137h1v1h-1zM634 138h1v1h-1zM634 139h1v1h-1zM635 140h1v1h-1zM636 141h1v1h-1zM636 142h1v1h-1zM637 143h1v1h-1zM659 203h1v1h-1zM660 204h1v1h-1zM660 205h1v1h-1zM660 206h1v1h-1zM660 207h1v1h-1zM661 208h1v1h-1zM661 209h1v1h-1zM661 210h1v1h-1zM662 211h1v1h-1zM662 212h1v1h-1zM662 213h1v1h-1z" fill="#ae0000"/><path d="M514 323h4v1h1v1h1v4h-1v1h-1v1h-4v-1h-1v-1h-1v-4h1v-1h1z" fill="#ae0000"/><path d="M546 297h4v1h1v1h1v4h-1v1h-1v1h-4v-1h-1v-1h-1v-4h1v-1h1z" fill="#ae0000"/><path d="M568 204h4v1h1v1h1v4h-1v1h-1v1h-4v-1h-1v-1h-1v-4h1v-1h1z" fill="#ae0000"/><path d="M590 134h4v1h1v1h1v4h-1v1h-1v1h-4v-1h-1v-1h-1v-4h1v-1h1z" fill="#ae0000"/><path d="M614 104h4v1h1v1h1v4h-1v1h-1v1h-4v-1h-1v-1h-1v-4h1v-1h1z" fill="#ae0000"/><path d="M645 156h4v1h1v1h1v4h-1v1h-1v1h-4v-1h-1v-1h-1v-4h1v-1h1z" fill="#ae0000"/><path d="M685 297h4v1h1v1h1v4h-1v1h-1v1h-4v-1h-1v-1h-1v-4h1v-1h1z" fill="#ae0000"/><path d="M522 293h1v1h-1zM523 292h2v1h-2zM607 292h4v1h-4zM525 291h2v1h-2zM601 291h6v1h-6zM527 290h1v1h-1zM598 290h3v1h-3zM528 289h2v1h-2zM530 288h2v1h-2zM581 288h6v1h-6zM621 288h1v1h-1zM532 287h1v1h-1zM576 287h5v1h-5zM622 287h1v1h-1zM533 286h2v1h-2zM623 286h1v1h-1zM535 285h2v1h-2zM563 285h2v1h-2zM624 285h1v1h-1zM537 284h1v1h-1zM561 284h2v1h-2zM625 284h1v1h-1zM538 283h2v1h-2zM559 283h2v1h-2zM625 283h1v1h-1zM540 282h2v1h-2zM557 282h2v1h-2zM626 282h1v1h-1zM542 281h1v1h-1zM555 281h2v1h-2zM627 281h1v1h-1zM554 280h1v1h-1zM628 280h1v1h-1zM629 279h1v1h-1zM630 278h1v1h-1zM631 277h1v1h-1zM632 276h1v1h-1zM632 275h1v1h-1zM633 274h1v1h-1zM634 273h1v1h-1zM635 272h1v1h-1zM636 271h1v1h-1zM637 270h1v1h-1zM638 269h1v1h-1zM639 268h1v1h-1zM639 267h1v1h-1zM640 266h1v1h-1zM641 265h1v1h-1zM642 264h1v1h-1zM653 256h3v1h-3zM656 255h4v1h-4zM660 254h5v1h-5zM665 253h5v1h-5zM670 252h4v1h-4zM674 251h5v1h-5zM679 250h3v1h-3z" fill="#0000a8"/><rect x="512" y="292" width="8" height="8" fill="#0000a8"/><rect x="544" y="274" width="8" height="8" fill="#0000a8"/><rect x="566" y="283" width="8" height="8" fill="#0000a8"/><rect x="588" y="284" width="8" height="8" fill="#0000a8"/><rect x="612" y="290" width="8" height="8" fill="#0000a8"/><rect x="643" y="254" width="8" height="8" fill="#0000a8"/><rect x="683" y="244" width="8" height="8" fill="#0000a8"/><path d="M522 306h1v1h-1zM523 305h1v1h-1zM524 304h1v1h-1zM587 304h1v1h-1zM525 303h1v1h-1zM586 303h1v1h-1zM526 302h1v1h-1zM586 302h1v1h-1zM527 301h1v1h-1zM585 301h1v1h-1zM528 300h1v1h-1zM584 300h1v1h-1zM529 299h1v1h-1zM583 299h1v1h-1zM530 298h1v1h-1zM583 298h1v1h-1zM531 297h1v1h-1zM582 297h1v1h-1zM532 296h1v1h-1zM581 296h1v1h-1zM533 295h1v1h-1zM580 295h1v1h-1zM534 294h1v1h-1zM580 294h1v1h-1zM535 293h1v1h-1zM579 293h1v1h-1zM536 292h1v1h-1zM578 292h1v1h-1zM537 291h1v1h-1zM577 291h1v1h-1zM538 290h1v1h-1zM577 290h1v1h-1zM539 289h1v1h-1zM576 289h1v1h-1zM540 288h1v1h-1zM575 288h1v1h-1zM541 287h1v1h-1zM542 286h1v1h-1zM554 281h11v1h-11zM598 312h2v1h-2zM600 313h4v1h-4zM604 314h4v1h-4zM608 315h3v1h-3zM622 318h4v1h-4zM626 319h6v1h-6zM632 320h6v1h-6zM638 321h4v1h-4zM653 322h29v1h-29z" fill="#cc6600"/><path d="M513 308h7v1h-7zM513 309h6v1h-6zM514 310h5v1h-5zM514 311h4v1h-4zM515 312h3v1h-3zM515 313h2v1h-2zM516 314h1v1h-1z" fill="#cc6600"/><path d="M545 276h7v1h-7zM545 277h6v1h-6zM546 278h5v1h-5zM546 279h4v1h-4zM547 280h3v1h-3zM547 281h2v1h-2zM548 282h1v1h-1z" fill="#cc6600"/><path d="M567 278h7v1h-7zM567 279h6v1h-6zM568 280h5v1h-5zM568 281h4v1h-4zM569 282h3v1h-3zM569 283h2v1h-2zM570 284h1v1h-1z" fill="#cc6600"/><path d="M589 306h7v1h-7zM589 307h6v1h-6zM590 308h5v1h-5zM590 309h4v1h-4zM591 310h3v1h-3zM591 311h2v1h-2zM592 312h1v1h-1z" fill="#cc6600"/><path d="M613 313h7v1h-7zM613 314h6v1h-6zM614 315h5v1h-5zM614 316h4v1h-4zM615 317h3v1h-3zM615 318h2v1h-2zM616 319h1v1h-1z" fill="#cc6600"/><path d="M644 318h7v1h-7zM644 319h6v1h-6zM645 320h5v1h-5zM645 321h4v1h-4zM646 322h3v1h-3zM646 323h2v1h-2zM647 324h1v1h-1z" fill="#cc6600"/><path d="M684 318h7v1h-7zM684 319h6v1h-6zM685 320h5v1h-5zM685 321h4v1h-4zM686 322h3v1h-3zM686 323h2v1h-2zM687 324h1v1h-1z" fill="#cc6600"/></g>
<g shape-rendering="crispEdges"><rect x="150" y="141" width="23" height="1" fill="#0000a8"/><rect x="153" y="140" width="5" height="1" fill="#0000a8"/><rect x="152" y="142" width="5" height="1" fill="#0000a8"/><rect x="158" y="139" width="2" height="1" fill="#0000a8"/><rect x="157" y="143" width="3" height="1" fill="#0000a8"/><rect x="188" y="257" width="25" height="1" fill="#ae0000"/><rect x="191" y="256" width="5" height="1" fill="#ae0000"/><rect x="190" y="258" width="5" height="1" fill="#ae0000"/><rect x="196" y="255" width="2" height="1" fill="#ae0000"/><rect x="195" y="259" width="3" height="1" fill="#ae0000"/><rect x="98" y="279" width="26" height="1" fill="#cc6600"/><rect x="101" y="278" width="5" height="1" fill="#cc6600"/><rect x="100" y="280" width="5" height="1" fill="#cc6600"/><rect x="106" y="277" width="2" height="1" fill="#cc6600"/><rect x="105" y="281" width="3" height="1" fill="#cc6600"/><rect x="230" y="164" width="22" height="1" fill="#008800"/><rect x="244" y="163" width="5" height="1" fill="#008800"/><rect x="242" y="164" width="7" height="1" fill="#008800"/><rect x="242" y="165" width="6" height="1" fill="#008800"/><rect x="242" y="162" width="2" height="1" fill="#008800"/><rect x="372" y="120" width="24" height="1" fill="#ae0000"/><rect x="375" y="119" width="5" height="1" fill="#ae0000"/><rect x="374" y="121" width="5" height="1" fill="#ae0000"/><rect x="380" y="118" width="2" height="1" fill="#ae0000"/><rect x="379" y="122" width="3" height="1" fill="#ae0000"/><rect x="390" y="177" width="26" height="1" fill="#008800"/><rect x="408" y="176" width="5" height="1" fill="#008800"/><rect x="406" y="177" width="7" height="1" fill="#008800"/><rect x="406" y="178" width="6" height="1" fill="#008800"/><rect x="406" y="175" width="2" height="1" fill="#008800"/><rect x="299" y="230" width="23" height="1" fill="#0000a8"/><rect x="302" y="229" width="5" height="1" fill="#0000a8"/><rect x="301" y="231" width="5" height="1" fill="#0000a8"/><rect x="307" y="228" width="2" height="1" fill="#0000a8"/><rect x="306" y="232" width="3" height="1" fill="#0000a8"/><rect x="310" y="272" width="28" height="1" fill="#cc6600"/><rect x="313" y="271" width="5" height="1" fill="#cc6600"/><rect x="312" y="273" width="5" height="1" fill="#cc6600"/><rect x="318" y="270" width="2" height="1" fill="#cc6600"/><rect x="317" y="274" width="3" height="1" fill="#cc6600"/><rect x="557" y="168" width="27" height="1" fill="#ae0000"/><rect x="560" y="167" width="5" height="1" fill="#ae0000"/><rect x="559" y="169" width="5" height="1" fill="#ae0000"/><rect x="565" y="166" width="2" height="1" fill="#ae0000"/><rect x="564" y="170" width="3" height="1" fill="#ae0000"/><rect x="601" y="245" width="27" height="1" fill="#008800"/><rect x="620" y="244" width="5" height="1" fill="#008800"/><rect x="618" y="245" width="7" height="1" fill="#008800"/><rect x="618" y="246" width="6" height="1" fill="#008800"/><rect x="618" y="243" width="2" height="1" fill="#008800"/><rect x="514" y="286" width="29" height="1" fill="#0000a8"/><rect x="517" y="285" width="5" height="1" fill="#0000a8"/><rect x="516" y="287" width="5" height="1" fill="#0000a8"/><rect x="522" y="284" width="2" height="1" fill="#0000a8"/><rect x="521" y="288" width="3" height="1" fill="#0000a8"/><rect x="565" y="310" width="25" height="1" fill="#cc6600"/><rect x="568" y="309" width="5" height="1" fill="#cc6600"/><rect x="567" y="311" width="5" height="1" fill="#cc6600"/><rect x="573" y="308" width="2" height="1" fill="#cc6600"/><rect x="572" y="312" width="3" height="1" fill="#cc6600"/></g>
<g shape-rendering="crispEdges"><path d="M312 110h4v1h1v1h1v4h-1v1h-1v1h-4v-1h-1v-1h-1v-4h1v-1h1z" fill="#ae0000"/><rect x="310" y="126" width="8" height="8" fill="#0000a8"/><path d="M311 142h7v1h-7zM311 143h6v1h-6zM312 144h5v1h-5zM312 145h4v1h-4zM313 146h3v1h-3zM313 147h2v1h-2zM314 148h1v1h-1z" fill="#cc6600"/><path d="M314 160h1v1h-1zM313 161h2v1h-2zM313 162h3v1h-3zM312 163h4v1h-4zM312 164h5v1h-5zM311 165h6v1h-6zM311 166h7v1h-7zM310 167h8v1h-8z" fill="#008800"/></g>
<g shape-rendering="crispEdges"><rect x="130" y="20" width="515" height="48" fill="#fff"/></g>
<g fill="#000" stroke="none" style="will-change:transform"><text x="64" y="330" font-family="Liberation Sans" font-size="14" font-weight="400" text-anchor="end">0.0</text><text x="64" y="262" font-family="Liberation Sans" font-size="14" font-weight="400" text-anchor="end">0.1</text><text x="64" y="195" font-family="Liberation Sans" font-size="14" font-weight="400" text-anchor="end">0.2</text><text x="64" y="127" font-family="Liberation Sans" font-size="14" font-weight="400" text-anchor="end">0.3</text><text x="64" y="60" font-family="Liberation Sans" font-size="14" font-weight="400" text-anchor="end">0.4</text><text x="713" y="331" font-family="Liberation Sans" font-size="14" font-weight="400" textLength="26" lengthAdjust="spacingAndGlyphs">0.00</text><text x="713" y="223" font-family="Liberation Sans" font-size="14" font-weight="400" textLength="26" lengthAdjust="spacingAndGlyphs">0.01</text><text x="713" y="115" font-family="Liberation Sans" font-size="14" font-weight="400" textLength="26" lengthAdjust="spacingAndGlyphs">0.02</text><text x="78" y="358" font-family="Liberation Sans" font-size="14" font-weight="400" textLength="22" lengthAdjust="spacingAndGlyphs">0.01</text><text x="148" y="358" font-family="Liberation Sans" font-size="14" font-weight="400" textLength="17" lengthAdjust="spacingAndGlyphs">0.1</text><text x="219" y="358" font-family="Liberation Sans" font-size="14" font-weight="400">1</text><text x="290" y="358" font-family="Liberation Sans" font-size="14" font-weight="400" textLength="22" lengthAdjust="spacingAndGlyphs">0.01</text><text x="360" y="358" font-family="Liberation Sans" font-size="14" font-weight="400" textLength="17" lengthAdjust="spacingAndGlyphs">0.1</text><text x="431" y="358" font-family="Liberation Sans" font-size="14" font-weight="400">1</text><text x="503" y="358" font-family="Liberation Sans" font-size="14" font-weight="400" textLength="22" lengthAdjust="spacingAndGlyphs">0.01</text><text x="573" y="358" font-family="Liberation Sans" font-size="14" font-weight="400" textLength="17" lengthAdjust="spacingAndGlyphs">0.1</text><text x="644" y="358" font-family="Liberation Sans" font-size="14" font-weight="400">1</text><text x="150" y="87" font-family="Liberation Sans" font-size="14" font-weight="400" textLength="56" lengthAdjust="spacingAndGlyphs">(a) 500 K</text><text x="362" y="87" font-family="Liberation Sans" font-size="14" font-weight="400" textLength="56" lengthAdjust="spacingAndGlyphs">(b) 600 K</text><text x="574" y="87" font-family="Liberation Sans" font-size="14" font-weight="400" textLength="56" lengthAdjust="spacingAndGlyphs">(c) 700 K</text><text x="331" y="117" font-family="Liberation Sans" font-size="10" font-weight="400">Θ</text><text x="338" y="121" font-family="Liberation Sans" font-size="9" font-weight="400">O</text><text x="331" y="133" font-family="Liberation Sans" font-size="10" font-weight="400">Θ</text><text x="338" y="137" font-family="Liberation Sans" font-size="10" font-weight="400" textLength="34" lengthAdjust="spacingAndGlyphs">N,strong</text><text x="331" y="150" font-family="Liberation Sans" font-size="11" font-weight="400" font-family="Liberation Serif">θ</text><text x="336" y="154" font-family="Liberation Sans" font-size="10" font-weight="400" textLength="29" lengthAdjust="spacingAndGlyphs">N,weak</text><text x="331" y="168" font-family="Liberation Sans" font-size="13" font-weight="400" textLength="25" lengthAdjust="spacingAndGlyphs">Rate</text><text x="172" y="33" font-family="Liberation Sans" font-size="12" font-weight="700" stroke="none">15</text><text x="185" y="41" font-family="Liberation Sans" font-size="17" font-weight="700" textLength="30" lengthAdjust="spacingAndGlyphs" stroke="none">NO</text><text x="218" y="41" font-family="Liberation Sans" font-size="17" font-weight="700" textLength="12" lengthAdjust="spacingAndGlyphs" stroke="none">+</text><text x="233" y="41" font-family="Liberation Sans" font-size="17" font-weight="700" textLength="102" lengthAdjust="spacingAndGlyphs" stroke="none">CO/Rh(111)</text><text x="337" y="41" font-family="Liberation Sans" font-size="17" font-weight="700" textLength="62" lengthAdjust="spacingAndGlyphs" stroke="none">Steady</text><text x="402" y="41" font-family="Liberation Sans" font-size="17" font-weight="700" textLength="43" lengthAdjust="spacingAndGlyphs" stroke="none">State</text><text x="449" y="41" font-family="Liberation Sans" font-size="17" font-weight="700" textLength="75" lengthAdjust="spacingAndGlyphs" stroke="none">Reaction</text><text x="528" y="41" font-family="Liberation Sans" font-size="17" font-weight="700" textLength="71" lengthAdjust="spacingAndGlyphs" stroke="none">Kinetics</text><text x="135" y="61" font-family="Liberation Sans" font-size="16" font-weight="400" textLength="501" lengthAdjust="spacingAndGlyphs">Interdependence of Rates and Coverages on Beam Composition and T</text><text x="0" y="0" font-family="Liberation Sans" font-size="14" font-weight="700" textLength="93" lengthAdjust="spacingAndGlyphs" stroke="none" transform="translate(34,238) rotate(-90)">Coverage / ML</text><text x="0" y="0" font-family="Liberation Sans" font-size="14" font-weight="700" stroke="none" transform="translate(753,125) rotate(90)">Reaction Rate / ML·s<tspan dy="-5" font-size="10">-1</tspan></text><text x="348" y="382" font-family="Liberation Sans" font-size="14" font-weight="700" textLength="15" lengthAdjust="spacingAndGlyphs" stroke="#fff" stroke-width="0.4">P(</text><text x="363" y="376" font-family="Liberation Sans" font-size="10" font-weight="700" textLength="10" lengthAdjust="spacingAndGlyphs" stroke="#fff" stroke-width="0.1">15</text><text x="373" y="382" font-family="Liberation Sans" font-size="14" font-weight="700" textLength="69" lengthAdjust="spacingAndGlyphs" stroke="#fff" stroke-width="0.4">NO)/P(CO)</text></g>
</svg>
</body></html>
